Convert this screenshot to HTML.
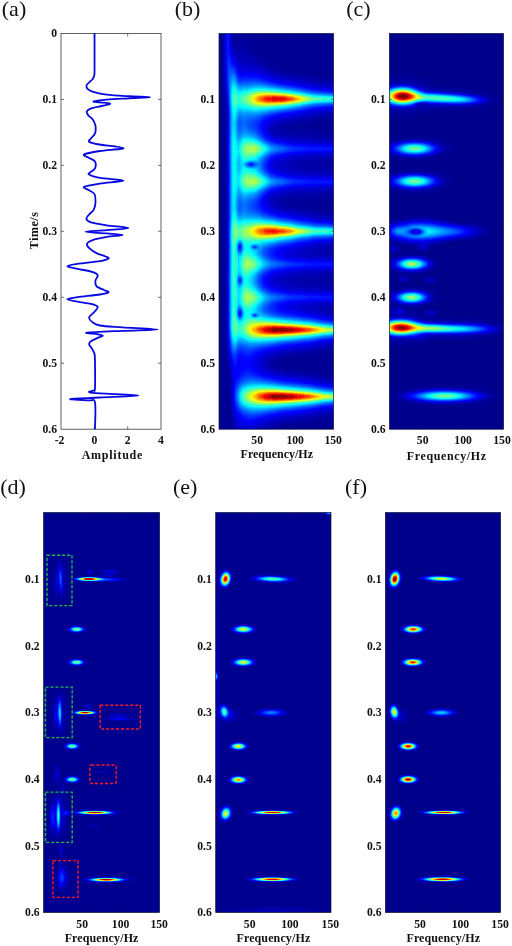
<!DOCTYPE html>
<html><head><meta charset="utf-8"><title>Figure</title>
<style>
html,body{margin:0;padding:0;background:#fff;}
body{width:512px;height:946px;overflow:hidden;}
svg{display:block;}
text{font-family:"Liberation Serif","DejaVu Serif",serif;fill:#111;}
.lab{font-size:22px;}
.tk{font-size:11.7px;font-weight:bold;}
.ax{font-size:12px;font-weight:bold;}
</style></head><body>
<svg width="512" height="946" viewBox="0 0 512 946">
<defs>
<filter id="jet" x="0" y="0" width="100%" height="100%" filterUnits="objectBoundingBox" color-interpolation-filters="sRGB"><feComponentTransfer><feFuncR type="table" tableValues="0.000 0.000 0.000 0.000 0.000 0.000 0.000 0.000 0.000 0.000 0.000 0.000 0.000 0.000 0.000 0.000 0.000 0.000 0.000 0.000 0.000 0.000 0.000 0.000 0.000 0.000 0.000 0.000 0.000 0.000 0.000 0.000 0.000 0.000 0.000 0.000 0.000 0.000 0.000 0.000 0.000 0.000 0.000 0.000 0.000 0.000 0.000 0.000 0.000 0.000 0.000 0.000 0.000 0.000 0.000 0.000 0.000 0.000 0.000 0.000 0.000 0.000 0.000 0.000 0.000 0.000 0.000 0.000 0.000 0.000 0.000 0.000 0.000 0.000 0.000 0.000 0.000 0.000 0.000 0.000 0.000 0.000 0.000 0.000 0.000 0.000 0.000 0.000 0.000 0.000 0.000 0.000 0.000 0.000 0.000 0.000 0.000 0.000 0.000 0.000 0.000 0.000 0.000 0.000 0.017 0.043 0.069 0.097 0.124 0.153 0.182 0.211 0.241 0.272 0.303 0.335 0.368 0.402 0.436 0.471 0.508 0.545 0.583 0.622 0.662 0.704 0.746 0.790 0.836 0.882 0.931 0.981 1.000 1.000 1.000 1.000 1.000 1.000 1.000 1.000 1.000 1.000 1.000 1.000 1.000 1.000 0.923 0.809 0.684 0.548 0.500 0.500 0.500 0.500 0.500 0.500 0.500 0.500 0.500 0.500"/><feFuncG type="table" tableValues="0.000 0.000 0.000 0.000 0.000 0.000 0.000 0.000 0.000 0.000 0.000 0.000 0.000 0.000 0.000 0.000 0.000 0.000 0.000 0.000 0.000 0.000 0.000 0.000 0.000 0.000 0.000 0.000 0.000 0.000 0.000 0.000 0.000 0.000 0.000 0.000 0.000 0.000 0.000 0.000 0.000 0.000 0.000 0.000 0.000 0.000 0.000 0.001 0.013 0.026 0.039 0.053 0.066 0.079 0.093 0.106 0.120 0.134 0.148 0.162 0.177 0.191 0.206 0.221 0.236 0.251 0.266 0.282 0.297 0.313 0.329 0.345 0.361 0.378 0.395 0.412 0.429 0.446 0.464 0.481 0.499 0.517 0.536 0.555 0.573 0.593 0.612 0.632 0.652 0.672 0.693 0.713 0.735 0.756 0.778 0.800 0.823 0.845 0.869 0.892 0.916 0.941 0.966 0.991 1.000 1.000 1.000 1.000 1.000 1.000 1.000 1.000 1.000 1.000 1.000 1.000 1.000 1.000 1.000 1.000 1.000 1.000 1.000 1.000 1.000 1.000 1.000 1.000 1.000 1.000 1.000 1.000 0.967 0.913 0.857 0.799 0.738 0.674 0.608 0.538 0.465 0.388 0.306 0.220 0.127 0.029 0.000 0.000 0.000 0.000 0.000 0.000 0.000 0.000 0.000 0.000 0.000 0.000 0.000 0.000"/><feFuncB type="table" tableValues="0.500 0.509 0.518 0.527 0.536 0.546 0.555 0.564 0.574 0.583 0.593 0.602 0.612 0.622 0.632 0.642 0.652 0.662 0.672 0.682 0.692 0.702 0.713 0.723 0.734 0.744 0.755 0.766 0.777 0.788 0.799 0.810 0.821 0.832 0.844 0.855 0.867 0.878 0.890 0.902 0.914 0.926 0.938 0.950 0.963 0.975 0.988 1.000 1.000 1.000 1.000 1.000 1.000 1.000 1.000 1.000 1.000 1.000 1.000 1.000 1.000 1.000 1.000 1.000 1.000 1.000 1.000 1.000 1.000 1.000 1.000 1.000 1.000 1.000 1.000 1.000 1.000 1.000 1.000 1.000 1.000 1.000 1.000 1.000 1.000 1.000 1.000 1.000 1.000 1.000 1.000 1.000 1.000 1.000 1.000 1.000 1.000 1.000 1.000 1.000 1.000 1.000 1.000 1.000 0.983 0.957 0.931 0.903 0.876 0.847 0.818 0.789 0.759 0.728 0.697 0.665 0.632 0.598 0.564 0.529 0.492 0.455 0.417 0.378 0.338 0.296 0.254 0.210 0.164 0.118 0.069 0.019 0.000 0.000 0.000 0.000 0.000 0.000 0.000 0.000 0.000 0.000 0.000 0.000 0.000 0.000 0.000 0.000 0.000 0.000 0.000 0.000 0.000 0.000 0.000 0.000 0.000 0.000 0.000 0.000"/></feComponentTransfer></filter>
<radialGradient id="g"><stop offset="0.000" stop-color="#fff" stop-opacity="1.000"/><stop offset="0.083" stop-color="#fff" stop-opacity="0.977"/><stop offset="0.167" stop-color="#fff" stop-opacity="0.911"/><stop offset="0.250" stop-color="#fff" stop-opacity="0.811"/><stop offset="0.333" stop-color="#fff" stop-opacity="0.688"/><stop offset="0.417" stop-color="#fff" stop-opacity="0.556"/><stop offset="0.500" stop-color="#fff" stop-opacity="0.426"/><stop offset="0.583" stop-color="#fff" stop-opacity="0.308"/><stop offset="0.667" stop-color="#fff" stop-opacity="0.209"/><stop offset="0.750" stop-color="#fff" stop-opacity="0.130"/><stop offset="0.833" stop-color="#fff" stop-opacity="0.070"/><stop offset="0.917" stop-color="#fff" stop-opacity="0.028"/><stop offset="1.000" stop-color="#fff" stop-opacity="0.000"/></radialGradient>
<radialGradient id="k"><stop offset="0.000" stop-color="#000" stop-opacity="1.000"/><stop offset="0.083" stop-color="#000" stop-opacity="0.977"/><stop offset="0.167" stop-color="#000" stop-opacity="0.911"/><stop offset="0.250" stop-color="#000" stop-opacity="0.811"/><stop offset="0.333" stop-color="#000" stop-opacity="0.688"/><stop offset="0.417" stop-color="#000" stop-opacity="0.556"/><stop offset="0.500" stop-color="#000" stop-opacity="0.426"/><stop offset="0.583" stop-color="#000" stop-opacity="0.308"/><stop offset="0.667" stop-color="#000" stop-opacity="0.209"/><stop offset="0.750" stop-color="#000" stop-opacity="0.130"/><stop offset="0.833" stop-color="#000" stop-opacity="0.070"/><stop offset="0.917" stop-color="#000" stop-opacity="0.028"/><stop offset="1.000" stop-color="#000" stop-opacity="0.000"/></radialGradient>
<clipPath id="cpb"><rect x="219.0" y="33.4" width="114.6" height="395.8"/></clipPath>
<clipPath id="cpc"><rect x="389.4" y="33.4" width="114.2" height="395.8"/></clipPath>
<clipPath id="cpd"><rect x="43.6" y="512.6" width="116.0" height="399.8"/></clipPath>
<clipPath id="cpe"><rect x="215.7" y="512.6" width="115.3" height="399.8"/></clipPath>
<clipPath id="cpf"><rect x="385.4" y="512.6" width="115.2" height="399.8"/></clipPath>
<radialGradient id="g1"><stop offset="0.000" stop-color="#fff" stop-opacity="0.0545"/><stop offset="0.083" stop-color="#fff" stop-opacity="0.0532"/><stop offset="0.167" stop-color="#fff" stop-opacity="0.0498"/><stop offset="0.250" stop-color="#fff" stop-opacity="0.0444"/><stop offset="0.333" stop-color="#fff" stop-opacity="0.0378"/><stop offset="0.417" stop-color="#fff" stop-opacity="0.0306"/><stop offset="0.500" stop-color="#fff" stop-opacity="0.0236"/><stop offset="0.583" stop-color="#fff" stop-opacity="0.0171"/><stop offset="0.667" stop-color="#fff" stop-opacity="0.0116"/><stop offset="0.750" stop-color="#fff" stop-opacity="0.0072"/><stop offset="0.833" stop-color="#fff" stop-opacity="0.0039"/><stop offset="0.917" stop-color="#fff" stop-opacity="0.0016"/><stop offset="1.000" stop-color="#fff" stop-opacity="0.0000"/></radialGradient>
<radialGradient id="g2"><stop offset="0.000" stop-color="#fff" stop-opacity="0.1060"/><stop offset="0.083" stop-color="#fff" stop-opacity="0.1037"/><stop offset="0.167" stop-color="#fff" stop-opacity="0.0970"/><stop offset="0.250" stop-color="#fff" stop-opacity="0.0868"/><stop offset="0.333" stop-color="#fff" stop-opacity="0.0742"/><stop offset="0.417" stop-color="#fff" stop-opacity="0.0603"/><stop offset="0.500" stop-color="#fff" stop-opacity="0.0466"/><stop offset="0.583" stop-color="#fff" stop-opacity="0.0340"/><stop offset="0.667" stop-color="#fff" stop-opacity="0.0231"/><stop offset="0.750" stop-color="#fff" stop-opacity="0.0144"/><stop offset="0.833" stop-color="#fff" stop-opacity="0.0079"/><stop offset="0.917" stop-color="#fff" stop-opacity="0.0032"/><stop offset="1.000" stop-color="#fff" stop-opacity="0.0000"/></radialGradient>
<radialGradient id="g3"><stop offset="0.000" stop-color="#fff" stop-opacity="0.1546"/><stop offset="0.083" stop-color="#fff" stop-opacity="0.1514"/><stop offset="0.167" stop-color="#fff" stop-opacity="0.1420"/><stop offset="0.250" stop-color="#fff" stop-opacity="0.1274"/><stop offset="0.333" stop-color="#fff" stop-opacity="0.1092"/><stop offset="0.417" stop-color="#fff" stop-opacity="0.0891"/><stop offset="0.500" stop-color="#fff" stop-opacity="0.0691"/><stop offset="0.583" stop-color="#fff" stop-opacity="0.0505"/><stop offset="0.667" stop-color="#fff" stop-opacity="0.0345"/><stop offset="0.750" stop-color="#fff" stop-opacity="0.0216"/><stop offset="0.833" stop-color="#fff" stop-opacity="0.0118"/><stop offset="0.917" stop-color="#fff" stop-opacity="0.0048"/><stop offset="1.000" stop-color="#fff" stop-opacity="0.0000"/></radialGradient>
<radialGradient id="g4"><stop offset="0.000" stop-color="#fff" stop-opacity="0.2007"/><stop offset="0.083" stop-color="#fff" stop-opacity="0.1966"/><stop offset="0.167" stop-color="#fff" stop-opacity="0.1847"/><stop offset="0.250" stop-color="#fff" stop-opacity="0.1661"/><stop offset="0.333" stop-color="#fff" stop-opacity="0.1428"/><stop offset="0.417" stop-color="#fff" stop-opacity="0.1170"/><stop offset="0.500" stop-color="#fff" stop-opacity="0.0910"/><stop offset="0.583" stop-color="#fff" stop-opacity="0.0667"/><stop offset="0.667" stop-color="#fff" stop-opacity="0.0457"/><stop offset="0.750" stop-color="#fff" stop-opacity="0.0287"/><stop offset="0.833" stop-color="#fff" stop-opacity="0.0157"/><stop offset="0.917" stop-color="#fff" stop-opacity="0.0063"/><stop offset="1.000" stop-color="#fff" stop-opacity="0.0000"/></radialGradient>
<radialGradient id="g5"><stop offset="0.000" stop-color="#fff" stop-opacity="0.2442"/><stop offset="0.083" stop-color="#fff" stop-opacity="0.2394"/><stop offset="0.167" stop-color="#fff" stop-opacity="0.2252"/><stop offset="0.250" stop-color="#fff" stop-opacity="0.2031"/><stop offset="0.333" stop-color="#fff" stop-opacity="0.1752"/><stop offset="0.417" stop-color="#fff" stop-opacity="0.1441"/><stop offset="0.500" stop-color="#fff" stop-opacity="0.1124"/><stop offset="0.583" stop-color="#fff" stop-opacity="0.0827"/><stop offset="0.667" stop-color="#fff" stop-opacity="0.0568"/><stop offset="0.750" stop-color="#fff" stop-opacity="0.0357"/><stop offset="0.833" stop-color="#fff" stop-opacity="0.0195"/><stop offset="0.917" stop-color="#fff" stop-opacity="0.0079"/><stop offset="1.000" stop-color="#fff" stop-opacity="0.0000"/></radialGradient>
<radialGradient id="g6"><stop offset="0.000" stop-color="#fff" stop-opacity="0.2854"/><stop offset="0.083" stop-color="#fff" stop-opacity="0.2799"/><stop offset="0.167" stop-color="#fff" stop-opacity="0.2638"/><stop offset="0.250" stop-color="#fff" stop-opacity="0.2385"/><stop offset="0.333" stop-color="#fff" stop-opacity="0.2064"/><stop offset="0.417" stop-color="#fff" stop-opacity="0.1703"/><stop offset="0.500" stop-color="#fff" stop-opacity="0.1333"/><stop offset="0.583" stop-color="#fff" stop-opacity="0.0984"/><stop offset="0.667" stop-color="#fff" stop-opacity="0.0678"/><stop offset="0.750" stop-color="#fff" stop-opacity="0.0427"/><stop offset="0.833" stop-color="#fff" stop-opacity="0.0234"/><stop offset="0.917" stop-color="#fff" stop-opacity="0.0095"/><stop offset="1.000" stop-color="#fff" stop-opacity="0.0000"/></radialGradient>
<radialGradient id="g7"><stop offset="0.000" stop-color="#fff" stop-opacity="0.3243"/><stop offset="0.083" stop-color="#fff" stop-opacity="0.3182"/><stop offset="0.167" stop-color="#fff" stop-opacity="0.3004"/><stop offset="0.250" stop-color="#fff" stop-opacity="0.2723"/><stop offset="0.333" stop-color="#fff" stop-opacity="0.2364"/><stop offset="0.417" stop-color="#fff" stop-opacity="0.1957"/><stop offset="0.500" stop-color="#fff" stop-opacity="0.1538"/><stop offset="0.583" stop-color="#fff" stop-opacity="0.1139"/><stop offset="0.667" stop-color="#fff" stop-opacity="0.0786"/><stop offset="0.750" stop-color="#fff" stop-opacity="0.0496"/><stop offset="0.833" stop-color="#fff" stop-opacity="0.0272"/><stop offset="0.917" stop-color="#fff" stop-opacity="0.0111"/><stop offset="1.000" stop-color="#fff" stop-opacity="0.0000"/></radialGradient>
<radialGradient id="g8"><stop offset="0.000" stop-color="#fff" stop-opacity="0.3611"/><stop offset="0.083" stop-color="#fff" stop-opacity="0.3545"/><stop offset="0.167" stop-color="#fff" stop-opacity="0.3352"/><stop offset="0.250" stop-color="#fff" stop-opacity="0.3047"/><stop offset="0.333" stop-color="#fff" stop-opacity="0.2653"/><stop offset="0.417" stop-color="#fff" stop-opacity="0.2204"/><stop offset="0.500" stop-color="#fff" stop-opacity="0.1737"/><stop offset="0.583" stop-color="#fff" stop-opacity="0.1290"/><stop offset="0.667" stop-color="#fff" stop-opacity="0.0894"/><stop offset="0.750" stop-color="#fff" stop-opacity="0.0565"/><stop offset="0.833" stop-color="#fff" stop-opacity="0.0311"/><stop offset="0.917" stop-color="#fff" stop-opacity="0.0126"/><stop offset="1.000" stop-color="#fff" stop-opacity="0.0000"/></radialGradient>
<radialGradient id="g9"><stop offset="0.000" stop-color="#fff" stop-opacity="0.3959"/><stop offset="0.083" stop-color="#fff" stop-opacity="0.3889"/><stop offset="0.167" stop-color="#fff" stop-opacity="0.3683"/><stop offset="0.250" stop-color="#fff" stop-opacity="0.3355"/><stop offset="0.333" stop-color="#fff" stop-opacity="0.2930"/><stop offset="0.417" stop-color="#fff" stop-opacity="0.2442"/><stop offset="0.500" stop-color="#fff" stop-opacity="0.1932"/><stop offset="0.583" stop-color="#fff" stop-opacity="0.1440"/><stop offset="0.667" stop-color="#fff" stop-opacity="0.0999"/><stop offset="0.750" stop-color="#fff" stop-opacity="0.0633"/><stop offset="0.833" stop-color="#fff" stop-opacity="0.0349"/><stop offset="0.917" stop-color="#fff" stop-opacity="0.0142"/><stop offset="1.000" stop-color="#fff" stop-opacity="0.0000"/></radialGradient>
<radialGradient id="g10"><stop offset="0.000" stop-color="#fff" stop-opacity="0.4288"/><stop offset="0.083" stop-color="#fff" stop-opacity="0.4214"/><stop offset="0.167" stop-color="#fff" stop-opacity="0.3997"/><stop offset="0.250" stop-color="#fff" stop-opacity="0.3650"/><stop offset="0.333" stop-color="#fff" stop-opacity="0.3198"/><stop offset="0.417" stop-color="#fff" stop-opacity="0.2674"/><stop offset="0.500" stop-color="#fff" stop-opacity="0.2122"/><stop offset="0.583" stop-color="#fff" stop-opacity="0.1586"/><stop offset="0.667" stop-color="#fff" stop-opacity="0.1104"/><stop offset="0.750" stop-color="#fff" stop-opacity="0.0701"/><stop offset="0.833" stop-color="#fff" stop-opacity="0.0387"/><stop offset="0.917" stop-color="#fff" stop-opacity="0.0158"/><stop offset="1.000" stop-color="#fff" stop-opacity="0.0000"/></radialGradient>
<radialGradient id="g12"><stop offset="0.000" stop-color="#fff" stop-opacity="0.4893"/><stop offset="0.083" stop-color="#fff" stop-opacity="0.4814"/><stop offset="0.167" stop-color="#fff" stop-opacity="0.4580"/><stop offset="0.250" stop-color="#fff" stop-opacity="0.4202"/><stop offset="0.333" stop-color="#fff" stop-opacity="0.3702"/><stop offset="0.417" stop-color="#fff" stop-opacity="0.3116"/><stop offset="0.500" stop-color="#fff" stop-opacity="0.2489"/><stop offset="0.583" stop-color="#fff" stop-opacity="0.1872"/><stop offset="0.667" stop-color="#fff" stop-opacity="0.1310"/><stop offset="0.750" stop-color="#fff" stop-opacity="0.0835"/><stop offset="0.833" stop-color="#fff" stop-opacity="0.0463"/><stop offset="0.917" stop-color="#fff" stop-opacity="0.0189"/><stop offset="1.000" stop-color="#fff" stop-opacity="0.0000"/></radialGradient>
<radialGradient id="g13"><stop offset="0.000" stop-color="#fff" stop-opacity="0.5171"/><stop offset="0.083" stop-color="#fff" stop-opacity="0.5090"/><stop offset="0.167" stop-color="#fff" stop-opacity="0.4849"/><stop offset="0.250" stop-color="#fff" stop-opacity="0.4459"/><stop offset="0.333" stop-color="#fff" stop-opacity="0.3940"/><stop offset="0.417" stop-color="#fff" stop-opacity="0.3327"/><stop offset="0.500" stop-color="#fff" stop-opacity="0.2666"/><stop offset="0.583" stop-color="#fff" stop-opacity="0.2011"/><stop offset="0.667" stop-color="#fff" stop-opacity="0.1411"/><stop offset="0.750" stop-color="#fff" stop-opacity="0.0902"/><stop offset="0.833" stop-color="#fff" stop-opacity="0.0500"/><stop offset="0.917" stop-color="#fff" stop-opacity="0.0204"/><stop offset="1.000" stop-color="#fff" stop-opacity="0.0000"/></radialGradient>
<radialGradient id="g14"><stop offset="0.000" stop-color="#fff" stop-opacity="0.5434"/><stop offset="0.083" stop-color="#fff" stop-opacity="0.5351"/><stop offset="0.167" stop-color="#fff" stop-opacity="0.5106"/><stop offset="0.250" stop-color="#fff" stop-opacity="0.4705"/><stop offset="0.333" stop-color="#fff" stop-opacity="0.4169"/><stop offset="0.417" stop-color="#fff" stop-opacity="0.3531"/><stop offset="0.500" stop-color="#fff" stop-opacity="0.2839"/><stop offset="0.583" stop-color="#fff" stop-opacity="0.2148"/><stop offset="0.667" stop-color="#fff" stop-opacity="0.1511"/><stop offset="0.750" stop-color="#fff" stop-opacity="0.0968"/><stop offset="0.833" stop-color="#fff" stop-opacity="0.0538"/><stop offset="0.917" stop-color="#fff" stop-opacity="0.0220"/><stop offset="1.000" stop-color="#fff" stop-opacity="0.0000"/></radialGradient>
<radialGradient id="g15"><stop offset="0.000" stop-color="#fff" stop-opacity="0.5683"/><stop offset="0.083" stop-color="#fff" stop-opacity="0.5599"/><stop offset="0.167" stop-color="#fff" stop-opacity="0.5349"/><stop offset="0.250" stop-color="#fff" stop-opacity="0.4940"/><stop offset="0.333" stop-color="#fff" stop-opacity="0.4390"/><stop offset="0.417" stop-color="#fff" stop-opacity="0.3730"/><stop offset="0.500" stop-color="#fff" stop-opacity="0.3008"/><stop offset="0.583" stop-color="#fff" stop-opacity="0.2282"/><stop offset="0.667" stop-color="#fff" stop-opacity="0.1610"/><stop offset="0.750" stop-color="#fff" stop-opacity="0.1033"/><stop offset="0.833" stop-color="#fff" stop-opacity="0.0575"/><stop offset="0.917" stop-color="#fff" stop-opacity="0.0235"/><stop offset="1.000" stop-color="#fff" stop-opacity="0.0000"/></radialGradient>
<radialGradient id="g16"><stop offset="0.000" stop-color="#fff" stop-opacity="0.5918"/><stop offset="0.083" stop-color="#fff" stop-opacity="0.5833"/><stop offset="0.167" stop-color="#fff" stop-opacity="0.5580"/><stop offset="0.250" stop-color="#fff" stop-opacity="0.5165"/><stop offset="0.333" stop-color="#fff" stop-opacity="0.4602"/><stop offset="0.417" stop-color="#fff" stop-opacity="0.3922"/><stop offset="0.500" stop-color="#fff" stop-opacity="0.3173"/><stop offset="0.583" stop-color="#fff" stop-opacity="0.2414"/><stop offset="0.667" stop-color="#fff" stop-opacity="0.1707"/><stop offset="0.750" stop-color="#fff" stop-opacity="0.1098"/><stop offset="0.833" stop-color="#fff" stop-opacity="0.0612"/><stop offset="0.917" stop-color="#fff" stop-opacity="0.0251"/><stop offset="1.000" stop-color="#fff" stop-opacity="0.0000"/></radialGradient>
<radialGradient id="g17"><stop offset="0.000" stop-color="#fff" stop-opacity="0.6140"/><stop offset="0.083" stop-color="#fff" stop-opacity="0.6055"/><stop offset="0.167" stop-color="#fff" stop-opacity="0.5800"/><stop offset="0.250" stop-color="#fff" stop-opacity="0.5380"/><stop offset="0.333" stop-color="#fff" stop-opacity="0.4806"/><stop offset="0.417" stop-color="#fff" stop-opacity="0.4108"/><stop offset="0.500" stop-color="#fff" stop-opacity="0.3333"/><stop offset="0.583" stop-color="#fff" stop-opacity="0.2544"/><stop offset="0.667" stop-color="#fff" stop-opacity="0.1804"/><stop offset="0.750" stop-color="#fff" stop-opacity="0.1163"/><stop offset="0.833" stop-color="#fff" stop-opacity="0.0649"/><stop offset="0.917" stop-color="#fff" stop-opacity="0.0266"/><stop offset="1.000" stop-color="#fff" stop-opacity="0.0000"/></radialGradient>
<radialGradient id="g18"><stop offset="0.000" stop-color="#fff" stop-opacity="0.6351"/><stop offset="0.083" stop-color="#fff" stop-opacity="0.6265"/><stop offset="0.167" stop-color="#fff" stop-opacity="0.6009"/><stop offset="0.250" stop-color="#fff" stop-opacity="0.5585"/><stop offset="0.333" stop-color="#fff" stop-opacity="0.5002"/><stop offset="0.417" stop-color="#fff" stop-opacity="0.4288"/><stop offset="0.500" stop-color="#fff" stop-opacity="0.3491"/><stop offset="0.583" stop-color="#fff" stop-opacity="0.2672"/><stop offset="0.667" stop-color="#fff" stop-opacity="0.1899"/><stop offset="0.750" stop-color="#fff" stop-opacity="0.1227"/><stop offset="0.833" stop-color="#fff" stop-opacity="0.0686"/><stop offset="0.917" stop-color="#fff" stop-opacity="0.0282"/><stop offset="1.000" stop-color="#fff" stop-opacity="0.0000"/></radialGradient>
<radialGradient id="g19"><stop offset="0.000" stop-color="#fff" stop-opacity="0.6549"/><stop offset="0.083" stop-color="#fff" stop-opacity="0.6464"/><stop offset="0.167" stop-color="#fff" stop-opacity="0.6208"/><stop offset="0.250" stop-color="#fff" stop-opacity="0.5781"/><stop offset="0.333" stop-color="#fff" stop-opacity="0.5191"/><stop offset="0.417" stop-color="#fff" stop-opacity="0.4463"/><stop offset="0.500" stop-color="#fff" stop-opacity="0.3644"/><stop offset="0.583" stop-color="#fff" stop-opacity="0.2797"/><stop offset="0.667" stop-color="#fff" stop-opacity="0.1993"/><stop offset="0.750" stop-color="#fff" stop-opacity="0.1290"/><stop offset="0.833" stop-color="#fff" stop-opacity="0.0722"/><stop offset="0.917" stop-color="#fff" stop-opacity="0.0297"/><stop offset="1.000" stop-color="#fff" stop-opacity="0.0000"/></radialGradient>
<radialGradient id="g20"><stop offset="0.000" stop-color="#fff" stop-opacity="0.6737"/><stop offset="0.083" stop-color="#fff" stop-opacity="0.6652"/><stop offset="0.167" stop-color="#fff" stop-opacity="0.6397"/><stop offset="0.250" stop-color="#fff" stop-opacity="0.5968"/><stop offset="0.333" stop-color="#fff" stop-opacity="0.5373"/><stop offset="0.417" stop-color="#fff" stop-opacity="0.4633"/><stop offset="0.500" stop-color="#fff" stop-opacity="0.3794"/><stop offset="0.583" stop-color="#fff" stop-opacity="0.2921"/><stop offset="0.667" stop-color="#fff" stop-opacity="0.2086"/><stop offset="0.750" stop-color="#fff" stop-opacity="0.1353"/><stop offset="0.833" stop-color="#fff" stop-opacity="0.0759"/><stop offset="0.917" stop-color="#fff" stop-opacity="0.0313"/><stop offset="1.000" stop-color="#fff" stop-opacity="0.0000"/></radialGradient>
<radialGradient id="g21"><stop offset="0.000" stop-color="#fff" stop-opacity="0.6915"/><stop offset="0.083" stop-color="#fff" stop-opacity="0.6831"/><stop offset="0.167" stop-color="#fff" stop-opacity="0.6576"/><stop offset="0.250" stop-color="#fff" stop-opacity="0.6147"/><stop offset="0.333" stop-color="#fff" stop-opacity="0.5548"/><stop offset="0.417" stop-color="#fff" stop-opacity="0.4797"/><stop offset="0.500" stop-color="#fff" stop-opacity="0.3940"/><stop offset="0.583" stop-color="#fff" stop-opacity="0.3042"/><stop offset="0.667" stop-color="#fff" stop-opacity="0.2178"/><stop offset="0.750" stop-color="#fff" stop-opacity="0.1416"/><stop offset="0.833" stop-color="#fff" stop-opacity="0.0795"/><stop offset="0.917" stop-color="#fff" stop-opacity="0.0328"/><stop offset="1.000" stop-color="#fff" stop-opacity="0.0000"/></radialGradient>
<radialGradient id="g22"><stop offset="0.000" stop-color="#fff" stop-opacity="0.7083"/><stop offset="0.083" stop-color="#fff" stop-opacity="0.6999"/><stop offset="0.167" stop-color="#fff" stop-opacity="0.6746"/><stop offset="0.250" stop-color="#fff" stop-opacity="0.6318"/><stop offset="0.333" stop-color="#fff" stop-opacity="0.5716"/><stop offset="0.417" stop-color="#fff" stop-opacity="0.4957"/><stop offset="0.500" stop-color="#fff" stop-opacity="0.4083"/><stop offset="0.583" stop-color="#fff" stop-opacity="0.3161"/><stop offset="0.667" stop-color="#fff" stop-opacity="0.2269"/><stop offset="0.750" stop-color="#fff" stop-opacity="0.1478"/><stop offset="0.833" stop-color="#fff" stop-opacity="0.0832"/><stop offset="0.917" stop-color="#fff" stop-opacity="0.0343"/><stop offset="1.000" stop-color="#fff" stop-opacity="0.0000"/></radialGradient>
<radialGradient id="g23"><stop offset="0.000" stop-color="#fff" stop-opacity="0.7242"/><stop offset="0.083" stop-color="#fff" stop-opacity="0.7159"/><stop offset="0.167" stop-color="#fff" stop-opacity="0.6908"/><stop offset="0.250" stop-color="#fff" stop-opacity="0.6482"/><stop offset="0.333" stop-color="#fff" stop-opacity="0.5878"/><stop offset="0.417" stop-color="#fff" stop-opacity="0.5111"/><stop offset="0.500" stop-color="#fff" stop-opacity="0.4222"/><stop offset="0.583" stop-color="#fff" stop-opacity="0.3278"/><stop offset="0.667" stop-color="#fff" stop-opacity="0.2359"/><stop offset="0.750" stop-color="#fff" stop-opacity="0.1540"/><stop offset="0.833" stop-color="#fff" stop-opacity="0.0868"/><stop offset="0.917" stop-color="#fff" stop-opacity="0.0359"/><stop offset="1.000" stop-color="#fff" stop-opacity="0.0000"/></radialGradient>
<radialGradient id="g28"><stop offset="0.000" stop-color="#fff" stop-opacity="0.7915"/><stop offset="0.083" stop-color="#fff" stop-opacity="0.7839"/><stop offset="0.167" stop-color="#fff" stop-opacity="0.7604"/><stop offset="0.250" stop-color="#fff" stop-opacity="0.7196"/><stop offset="0.333" stop-color="#fff" stop-opacity="0.6600"/><stop offset="0.417" stop-color="#fff" stop-opacity="0.5816"/><stop offset="0.500" stop-color="#fff" stop-opacity="0.4872"/><stop offset="0.583" stop-color="#fff" stop-opacity="0.3834"/><stop offset="0.667" stop-color="#fff" stop-opacity="0.2794"/><stop offset="0.750" stop-color="#fff" stop-opacity="0.1842"/><stop offset="0.833" stop-color="#fff" stop-opacity="0.1046"/><stop offset="0.917" stop-color="#fff" stop-opacity="0.0435"/><stop offset="1.000" stop-color="#fff" stop-opacity="0.0000"/></radialGradient>
<radialGradient id="g30"><stop offset="0.000" stop-color="#fff" stop-opacity="0.8136"/><stop offset="0.083" stop-color="#fff" stop-opacity="0.8063"/><stop offset="0.167" stop-color="#fff" stop-opacity="0.7837"/><stop offset="0.250" stop-color="#fff" stop-opacity="0.7440"/><stop offset="0.333" stop-color="#fff" stop-opacity="0.6852"/><stop offset="0.417" stop-color="#fff" stop-opacity="0.6068"/><stop offset="0.500" stop-color="#fff" stop-opacity="0.5111"/><stop offset="0.583" stop-color="#fff" stop-opacity="0.4044"/><stop offset="0.667" stop-color="#fff" stop-opacity="0.2960"/><stop offset="0.750" stop-color="#fff" stop-opacity="0.1960"/><stop offset="0.833" stop-color="#fff" stop-opacity="0.1117"/><stop offset="0.917" stop-color="#fff" stop-opacity="0.0465"/><stop offset="1.000" stop-color="#fff" stop-opacity="0.0000"/></radialGradient>
<radialGradient id="g35"><stop offset="0.000" stop-color="#fff" stop-opacity="0.8591"/><stop offset="0.083" stop-color="#fff" stop-opacity="0.8527"/><stop offset="0.167" stop-color="#fff" stop-opacity="0.8324"/><stop offset="0.250" stop-color="#fff" stop-opacity="0.7960"/><stop offset="0.333" stop-color="#fff" stop-opacity="0.7404"/><stop offset="0.417" stop-color="#fff" stop-opacity="0.6635"/><stop offset="0.500" stop-color="#fff" stop-opacity="0.5660"/><stop offset="0.583" stop-color="#fff" stop-opacity="0.4536"/><stop offset="0.667" stop-color="#fff" stop-opacity="0.3360"/><stop offset="0.750" stop-color="#fff" stop-opacity="0.2247"/><stop offset="0.833" stop-color="#fff" stop-opacity="0.1290"/><stop offset="0.917" stop-color="#fff" stop-opacity="0.0541"/><stop offset="1.000" stop-color="#fff" stop-opacity="0.0000"/></radialGradient>
<radialGradient id="g36"><stop offset="0.000" stop-color="#fff" stop-opacity="0.8668"/><stop offset="0.083" stop-color="#fff" stop-opacity="0.8605"/><stop offset="0.167" stop-color="#fff" stop-opacity="0.8407"/><stop offset="0.250" stop-color="#fff" stop-opacity="0.8051"/><stop offset="0.333" stop-color="#fff" stop-opacity="0.7502"/><stop offset="0.417" stop-color="#fff" stop-opacity="0.6738"/><stop offset="0.500" stop-color="#fff" stop-opacity="0.5763"/><stop offset="0.583" stop-color="#fff" stop-opacity="0.4630"/><stop offset="0.667" stop-color="#fff" stop-opacity="0.3437"/><stop offset="0.750" stop-color="#fff" stop-opacity="0.2303"/><stop offset="0.833" stop-color="#fff" stop-opacity="0.1325"/><stop offset="0.917" stop-color="#fff" stop-opacity="0.0556"/><stop offset="1.000" stop-color="#fff" stop-opacity="0.0000"/></radialGradient>
<radialGradient id="g41"><stop offset="0.000" stop-color="#fff" stop-opacity="0.8993"/><stop offset="0.083" stop-color="#fff" stop-opacity="0.8939"/><stop offset="0.167" stop-color="#fff" stop-opacity="0.8766"/><stop offset="0.250" stop-color="#fff" stop-opacity="0.8447"/><stop offset="0.333" stop-color="#fff" stop-opacity="0.7940"/><stop offset="0.417" stop-color="#fff" stop-opacity="0.7208"/><stop offset="0.500" stop-color="#fff" stop-opacity="0.6239"/><stop offset="0.583" stop-color="#fff" stop-opacity="0.5074"/><stop offset="0.667" stop-color="#fff" stop-opacity="0.3810"/><stop offset="0.750" stop-color="#fff" stop-opacity="0.2578"/><stop offset="0.833" stop-color="#fff" stop-opacity="0.1494"/><stop offset="0.917" stop-color="#fff" stop-opacity="0.0630"/><stop offset="1.000" stop-color="#fff" stop-opacity="0.0000"/></radialGradient>
<radialGradient id="g43"><stop offset="0.000" stop-color="#fff" stop-opacity="0.9100"/><stop offset="0.083" stop-color="#fff" stop-opacity="0.9049"/><stop offset="0.167" stop-color="#fff" stop-opacity="0.8886"/><stop offset="0.250" stop-color="#fff" stop-opacity="0.8581"/><stop offset="0.333" stop-color="#fff" stop-opacity="0.8093"/><stop offset="0.417" stop-color="#fff" stop-opacity="0.7376"/><stop offset="0.500" stop-color="#fff" stop-opacity="0.6414"/><stop offset="0.583" stop-color="#fff" stop-opacity="0.5241"/><stop offset="0.667" stop-color="#fff" stop-opacity="0.3954"/><stop offset="0.750" stop-color="#fff" stop-opacity="0.2685"/><stop offset="0.833" stop-color="#fff" stop-opacity="0.1561"/><stop offset="0.917" stop-color="#fff" stop-opacity="0.0660"/><stop offset="1.000" stop-color="#fff" stop-opacity="0.0000"/></radialGradient>
<radialGradient id="g44"><stop offset="0.000" stop-color="#fff" stop-opacity="0.9149"/><stop offset="0.083" stop-color="#fff" stop-opacity="0.9100"/><stop offset="0.167" stop-color="#fff" stop-opacity="0.8941"/><stop offset="0.250" stop-color="#fff" stop-opacity="0.8644"/><stop offset="0.333" stop-color="#fff" stop-opacity="0.8165"/><stop offset="0.417" stop-color="#fff" stop-opacity="0.7457"/><stop offset="0.500" stop-color="#fff" stop-opacity="0.6499"/><stop offset="0.583" stop-color="#fff" stop-opacity="0.5323"/><stop offset="0.667" stop-color="#fff" stop-opacity="0.4024"/><stop offset="0.750" stop-color="#fff" stop-opacity="0.2738"/><stop offset="0.833" stop-color="#fff" stop-opacity="0.1594"/><stop offset="0.917" stop-color="#fff" stop-opacity="0.0675"/><stop offset="1.000" stop-color="#fff" stop-opacity="0.0000"/></radialGradient>
<radialGradient id="g45"><stop offset="0.000" stop-color="#fff" stop-opacity="0.9195"/><stop offset="0.083" stop-color="#fff" stop-opacity="0.9148"/><stop offset="0.167" stop-color="#fff" stop-opacity="0.8994"/><stop offset="0.250" stop-color="#fff" stop-opacity="0.8705"/><stop offset="0.333" stop-color="#fff" stop-opacity="0.8234"/><stop offset="0.417" stop-color="#fff" stop-opacity="0.7535"/><stop offset="0.500" stop-color="#fff" stop-opacity="0.6581"/><stop offset="0.583" stop-color="#fff" stop-opacity="0.5403"/><stop offset="0.667" stop-color="#fff" stop-opacity="0.4093"/><stop offset="0.750" stop-color="#fff" stop-opacity="0.2790"/><stop offset="0.833" stop-color="#fff" stop-opacity="0.1627"/><stop offset="0.917" stop-color="#fff" stop-opacity="0.0689"/><stop offset="1.000" stop-color="#fff" stop-opacity="0.0000"/></radialGradient>
<radialGradient id="g46"><stop offset="0.000" stop-color="#fff" stop-opacity="0.9239"/><stop offset="0.083" stop-color="#fff" stop-opacity="0.9193"/><stop offset="0.167" stop-color="#fff" stop-opacity="0.9044"/><stop offset="0.250" stop-color="#fff" stop-opacity="0.8762"/><stop offset="0.333" stop-color="#fff" stop-opacity="0.8301"/><stop offset="0.417" stop-color="#fff" stop-opacity="0.7610"/><stop offset="0.500" stop-color="#fff" stop-opacity="0.6662"/><stop offset="0.583" stop-color="#fff" stop-opacity="0.5482"/><stop offset="0.667" stop-color="#fff" stop-opacity="0.4162"/><stop offset="0.750" stop-color="#fff" stop-opacity="0.2843"/><stop offset="0.833" stop-color="#fff" stop-opacity="0.1660"/><stop offset="0.917" stop-color="#fff" stop-opacity="0.0704"/><stop offset="1.000" stop-color="#fff" stop-opacity="0.0000"/></radialGradient>
<radialGradient id="g50"><stop offset="0.000" stop-color="#fff" stop-opacity="0.9392"/><stop offset="0.083" stop-color="#fff" stop-opacity="0.9352"/><stop offset="0.167" stop-color="#fff" stop-opacity="0.9221"/><stop offset="0.250" stop-color="#fff" stop-opacity="0.8968"/><stop offset="0.333" stop-color="#fff" stop-opacity="0.8544"/><stop offset="0.417" stop-color="#fff" stop-opacity="0.7890"/><stop offset="0.500" stop-color="#fff" stop-opacity="0.6966"/><stop offset="0.583" stop-color="#fff" stop-opacity="0.5783"/><stop offset="0.667" stop-color="#fff" stop-opacity="0.4429"/><stop offset="0.750" stop-color="#fff" stop-opacity="0.3048"/><stop offset="0.833" stop-color="#fff" stop-opacity="0.1791"/><stop offset="0.917" stop-color="#fff" stop-opacity="0.0763"/><stop offset="1.000" stop-color="#fff" stop-opacity="0.0000"/></radialGradient>
</defs>
<rect width="512" height="946" fill="#fff"/>
<g clip-path="url(#cpb)"><g filter="url(#jet)">
<rect x="217.0" y="31.4" width="118.6" height="399.8" fill="#000"/>
<rect x="217.0" y="31.4" width="118.6" height="399.8" fill="#fff" opacity="0.054"/>
<ellipse cx="232.6" cy="90.0" rx="8.0" ry="50.6" fill="url(#g12)"/>
<ellipse cx="232.6" cy="112.0" rx="8.0" ry="50.6" fill="url(#g2)"/>
<ellipse cx="232.6" cy="134.0" rx="8.0" ry="50.6" fill="url(#g9)"/>
<ellipse cx="232.6" cy="156.0" rx="8.0" ry="50.6" fill="url(#g5)"/>
<ellipse cx="232.6" cy="178.0" rx="8.0" ry="50.6" fill="url(#g7)"/>
<ellipse cx="232.6" cy="200.0" rx="8.0" ry="50.6" fill="url(#g6)"/>
<ellipse cx="232.6" cy="222.0" rx="8.0" ry="50.6" fill="url(#g6)"/>
<ellipse cx="232.6" cy="244.0" rx="8.0" ry="50.6" fill="url(#g8)"/>
<ellipse cx="232.6" cy="266.0" rx="8.0" ry="50.6" fill="url(#g6)"/>
<ellipse cx="232.6" cy="288.0" rx="8.0" ry="50.6" fill="url(#g9)"/>
<ellipse cx="232.6" cy="310.0" rx="8.0" ry="50.6" fill="url(#g5)"/>
<ellipse cx="232.6" cy="332.0" rx="8.0" ry="50.6" fill="url(#g10)"/>
<ellipse cx="232.6" cy="376.0" rx="8.0" ry="50.6" fill="url(#g1)"/>
<ellipse cx="228.0" cy="-20.0" rx="6.0" ry="50.6" fill="url(#g6)"/>
<ellipse cx="228.0" cy="2.0" rx="6.0" ry="50.6" fill="url(#g1)"/>
<ellipse cx="228.0" cy="24.0" rx="6.0" ry="50.6" fill="url(#g5)"/>
<ellipse cx="228.0" cy="46.0" rx="6.0" ry="50.6" fill="url(#g1)"/>
<ellipse cx="228.0" cy="68.0" rx="6.0" ry="50.6" fill="url(#g5)"/>
<ellipse cx="235.0" cy="99.0" rx="6.2" ry="29.2" fill="url(#g1)"/>
<ellipse cx="235.0" cy="99.0" rx="6.2" ry="58.4" fill="url(#g1)"/>
<ellipse cx="235.0" cy="99.0" rx="6.2" ry="116.9" fill="url(#g1)"/>
<ellipse cx="237.7" cy="99.0" rx="6.6" ry="25.2" fill="url(#g1)"/>
<ellipse cx="237.7" cy="99.0" rx="6.6" ry="50.5" fill="url(#g2)"/>
<ellipse cx="237.7" cy="99.0" rx="6.6" ry="100.9" fill="url(#g1)"/>
<ellipse cx="240.8" cy="99.0" rx="7.5" ry="20.7" fill="url(#g2)"/>
<ellipse cx="240.8" cy="99.0" rx="7.5" ry="41.4" fill="url(#g2)"/>
<ellipse cx="240.8" cy="99.0" rx="7.5" ry="82.7" fill="url(#g2)"/>
<ellipse cx="244.2" cy="99.0" rx="8.8" ry="18.0" fill="url(#g3)"/>
<ellipse cx="244.2" cy="99.0" rx="8.8" ry="36.0" fill="url(#g4)"/>
<ellipse cx="244.2" cy="99.0" rx="8.8" ry="71.9" fill="url(#g3)"/>
<ellipse cx="248.4" cy="99.0" rx="10.5" ry="16.2" fill="url(#g3)"/>
<ellipse cx="248.4" cy="99.0" rx="10.5" ry="32.3" fill="url(#g5)"/>
<ellipse cx="248.4" cy="99.0" rx="10.5" ry="64.7" fill="url(#g3)"/>
<ellipse cx="253.4" cy="99.0" rx="11.9" ry="14.2" fill="url(#g4)"/>
<ellipse cx="253.4" cy="99.0" rx="11.9" ry="28.3" fill="url(#g6)"/>
<ellipse cx="253.4" cy="99.0" rx="11.9" ry="56.7" fill="url(#g4)"/>
<ellipse cx="258.7" cy="99.0" rx="13.2" ry="12.4" fill="url(#g5)"/>
<ellipse cx="258.7" cy="99.0" rx="13.2" ry="24.8" fill="url(#g6)"/>
<ellipse cx="258.7" cy="99.0" rx="13.2" ry="49.6" fill="url(#g5)"/>
<ellipse cx="264.8" cy="99.0" rx="14.9" ry="10.4" fill="url(#g6)"/>
<ellipse cx="264.8" cy="99.0" rx="14.9" ry="20.7" fill="url(#g8)"/>
<ellipse cx="264.8" cy="99.0" rx="14.9" ry="41.5" fill="url(#g6)"/>
<ellipse cx="271.7" cy="99.0" rx="16.7" ry="9.2" fill="url(#g6)"/>
<ellipse cx="271.7" cy="99.0" rx="16.7" ry="18.4" fill="url(#g8)"/>
<ellipse cx="271.7" cy="99.0" rx="16.7" ry="36.7" fill="url(#g6)"/>
<ellipse cx="279.4" cy="99.0" rx="18.5" ry="7.8" fill="url(#g7)"/>
<ellipse cx="279.4" cy="99.0" rx="18.5" ry="15.7" fill="url(#g10)"/>
<ellipse cx="279.4" cy="99.0" rx="18.5" ry="31.4" fill="url(#g7)"/>
<ellipse cx="287.8" cy="99.0" rx="19.3" ry="7.6" fill="url(#g6)"/>
<ellipse cx="287.8" cy="99.0" rx="19.3" ry="15.1" fill="url(#g8)"/>
<ellipse cx="287.8" cy="99.0" rx="19.3" ry="30.3" fill="url(#g6)"/>
<ellipse cx="296.2" cy="99.0" rx="19.3" ry="7.4" fill="url(#g5)"/>
<ellipse cx="296.2" cy="99.0" rx="19.3" ry="14.8" fill="url(#g7)"/>
<ellipse cx="296.2" cy="99.0" rx="19.3" ry="29.6" fill="url(#g5)"/>
<ellipse cx="304.6" cy="99.0" rx="19.3" ry="7.2" fill="url(#g4)"/>
<ellipse cx="304.6" cy="99.0" rx="19.3" ry="14.3" fill="url(#g5)"/>
<ellipse cx="304.6" cy="99.0" rx="19.3" ry="28.7" fill="url(#g4)"/>
<ellipse cx="313.0" cy="99.0" rx="19.3" ry="6.9" fill="url(#g3)"/>
<ellipse cx="313.0" cy="99.0" rx="19.3" ry="13.8" fill="url(#g4)"/>
<ellipse cx="313.0" cy="99.0" rx="19.3" ry="27.6" fill="url(#g3)"/>
<ellipse cx="321.4" cy="99.0" rx="19.3" ry="6.5" fill="url(#g3)"/>
<ellipse cx="321.4" cy="99.0" rx="19.3" ry="13.1" fill="url(#g4)"/>
<ellipse cx="321.4" cy="99.0" rx="19.3" ry="26.2" fill="url(#g3)"/>
<ellipse cx="329.8" cy="99.0" rx="19.3" ry="6.1" fill="url(#g3)"/>
<ellipse cx="329.8" cy="99.0" rx="19.3" ry="12.3" fill="url(#g4)"/>
<ellipse cx="329.8" cy="99.0" rx="19.3" ry="24.6" fill="url(#g3)"/>
<ellipse cx="338.2" cy="99.0" rx="19.3" ry="5.9" fill="url(#g2)"/>
<ellipse cx="338.2" cy="99.0" rx="19.3" ry="11.8" fill="url(#g3)"/>
<ellipse cx="338.2" cy="99.0" rx="19.3" ry="23.6" fill="url(#g2)"/>
<ellipse cx="346.6" cy="99.0" rx="19.3" ry="5.7" fill="url(#g4)"/>
<ellipse cx="346.6" cy="99.0" rx="19.3" ry="11.4" fill="url(#g5)"/>
<ellipse cx="346.6" cy="99.0" rx="19.3" ry="22.8" fill="url(#g4)"/>
<ellipse cx="355.0" cy="99.0" rx="19.3" ry="5.5" fill="url(#g1)"/>
<ellipse cx="355.0" cy="99.0" rx="19.3" ry="11.0" fill="url(#g1)"/>
<ellipse cx="355.0" cy="99.0" rx="19.3" ry="21.9" fill="url(#g1)"/>
<ellipse cx="363.4" cy="99.0" rx="19.3" ry="5.3" fill="url(#g4)"/>
<ellipse cx="363.4" cy="99.0" rx="19.3" ry="10.7" fill="url(#g6)"/>
<ellipse cx="363.4" cy="99.0" rx="19.3" ry="21.4" fill="url(#g4)"/>
<ellipse cx="235.0" cy="148.8" rx="6.2" ry="29.2" fill="url(#g1)"/>
<ellipse cx="235.0" cy="148.8" rx="6.2" ry="58.4" fill="url(#g1)"/>
<ellipse cx="235.0" cy="148.8" rx="6.2" ry="116.9" fill="url(#g1)"/>
<ellipse cx="237.7" cy="148.8" rx="6.6" ry="25.2" fill="url(#g1)"/>
<ellipse cx="237.7" cy="148.8" rx="6.6" ry="50.5" fill="url(#g2)"/>
<ellipse cx="237.7" cy="148.8" rx="6.6" ry="100.9" fill="url(#g1)"/>
<ellipse cx="240.8" cy="148.8" rx="7.5" ry="20.7" fill="url(#g2)"/>
<ellipse cx="240.8" cy="148.8" rx="7.5" ry="41.4" fill="url(#g2)"/>
<ellipse cx="240.8" cy="148.8" rx="7.5" ry="82.7" fill="url(#g2)"/>
<ellipse cx="244.2" cy="148.8" rx="8.8" ry="18.0" fill="url(#g3)"/>
<ellipse cx="244.2" cy="148.8" rx="8.8" ry="36.0" fill="url(#g4)"/>
<ellipse cx="244.2" cy="148.8" rx="8.8" ry="71.9" fill="url(#g3)"/>
<ellipse cx="248.4" cy="148.8" rx="10.5" ry="16.2" fill="url(#g3)"/>
<ellipse cx="248.4" cy="148.8" rx="10.5" ry="32.3" fill="url(#g4)"/>
<ellipse cx="248.4" cy="148.8" rx="10.5" ry="64.7" fill="url(#g3)"/>
<ellipse cx="253.4" cy="148.8" rx="11.9" ry="14.2" fill="url(#g4)"/>
<ellipse cx="253.4" cy="148.8" rx="11.9" ry="28.3" fill="url(#g5)"/>
<ellipse cx="253.4" cy="148.8" rx="11.9" ry="56.7" fill="url(#g4)"/>
<ellipse cx="258.7" cy="148.8" rx="13.2" ry="12.4" fill="url(#g3)"/>
<ellipse cx="258.7" cy="148.8" rx="13.2" ry="24.8" fill="url(#g4)"/>
<ellipse cx="258.7" cy="148.8" rx="13.2" ry="49.6" fill="url(#g3)"/>
<ellipse cx="264.8" cy="148.8" rx="14.9" ry="10.4" fill="url(#g3)"/>
<ellipse cx="264.8" cy="148.8" rx="14.9" ry="20.7" fill="url(#g4)"/>
<ellipse cx="264.8" cy="148.8" rx="14.9" ry="41.5" fill="url(#g3)"/>
<ellipse cx="271.7" cy="148.8" rx="16.7" ry="9.2" fill="url(#g1)"/>
<ellipse cx="271.7" cy="148.8" rx="16.7" ry="18.4" fill="url(#g2)"/>
<ellipse cx="271.7" cy="148.8" rx="16.7" ry="36.7" fill="url(#g1)"/>
<ellipse cx="279.4" cy="148.8" rx="18.5" ry="7.8" fill="url(#g2)"/>
<ellipse cx="279.4" cy="148.8" rx="18.5" ry="15.7" fill="url(#g3)"/>
<ellipse cx="279.4" cy="148.8" rx="18.5" ry="31.4" fill="url(#g2)"/>
<ellipse cx="287.8" cy="148.8" rx="19.3" ry="7.6" fill="url(#g1)"/>
<ellipse cx="287.8" cy="148.8" rx="19.3" ry="15.1" fill="url(#g1)"/>
<ellipse cx="287.8" cy="148.8" rx="19.3" ry="30.3" fill="url(#g1)"/>
<ellipse cx="296.2" cy="148.8" rx="19.3" ry="7.4" fill="url(#g1)"/>
<ellipse cx="296.2" cy="148.8" rx="19.3" ry="14.8" fill="url(#g2)"/>
<ellipse cx="296.2" cy="148.8" rx="19.3" ry="29.6" fill="url(#g1)"/>
<ellipse cx="304.6" cy="148.8" rx="19.3" ry="7.2" fill="url(#g1)"/>
<ellipse cx="304.6" cy="148.8" rx="19.3" ry="14.3" fill="url(#g1)"/>
<ellipse cx="304.6" cy="148.8" rx="19.3" ry="28.7" fill="url(#g1)"/>
<ellipse cx="313.0" cy="148.8" rx="19.3" ry="6.9" fill="url(#g1)"/>
<ellipse cx="313.0" cy="148.8" rx="19.3" ry="13.8" fill="url(#g1)"/>
<ellipse cx="313.0" cy="148.8" rx="19.3" ry="27.6" fill="url(#g1)"/>
<ellipse cx="321.4" cy="148.8" rx="19.3" ry="6.5" fill="url(#g1)"/>
<ellipse cx="321.4" cy="148.8" rx="19.3" ry="13.1" fill="url(#g1)"/>
<ellipse cx="321.4" cy="148.8" rx="19.3" ry="26.2" fill="url(#g1)"/>
<ellipse cx="329.8" cy="148.8" rx="19.3" ry="6.1" fill="url(#g1)"/>
<ellipse cx="329.8" cy="148.8" rx="19.3" ry="12.3" fill="url(#g1)"/>
<ellipse cx="329.8" cy="148.8" rx="19.3" ry="24.6" fill="url(#g1)"/>
<ellipse cx="338.2" cy="148.8" rx="19.3" ry="5.9" fill="url(#g1)"/>
<ellipse cx="338.2" cy="148.8" rx="19.3" ry="11.8" fill="url(#g1)"/>
<ellipse cx="338.2" cy="148.8" rx="19.3" ry="23.6" fill="url(#g1)"/>
<ellipse cx="346.6" cy="148.8" rx="19.3" ry="5.7" fill="url(#g1)"/>
<ellipse cx="346.6" cy="148.8" rx="19.3" ry="11.4" fill="url(#g1)"/>
<ellipse cx="346.6" cy="148.8" rx="19.3" ry="22.8" fill="url(#g1)"/>
<ellipse cx="355.0" cy="148.8" rx="19.3" ry="5.5" fill="url(#g1)"/>
<ellipse cx="355.0" cy="148.8" rx="19.3" ry="11.0" fill="url(#g1)"/>
<ellipse cx="355.0" cy="148.8" rx="19.3" ry="21.9" fill="url(#g1)"/>
<ellipse cx="363.4" cy="148.8" rx="19.3" ry="5.3" fill="url(#g1)"/>
<ellipse cx="363.4" cy="148.8" rx="19.3" ry="10.7" fill="url(#g1)"/>
<ellipse cx="363.4" cy="148.8" rx="19.3" ry="21.4" fill="url(#g1)"/>
<ellipse cx="235.0" cy="181.8" rx="6.2" ry="29.2" fill="url(#g1)"/>
<ellipse cx="235.0" cy="181.8" rx="6.2" ry="58.4" fill="url(#g1)"/>
<ellipse cx="235.0" cy="181.8" rx="6.2" ry="116.9" fill="url(#g1)"/>
<ellipse cx="237.7" cy="181.8" rx="6.6" ry="25.2" fill="url(#g1)"/>
<ellipse cx="237.7" cy="181.8" rx="6.6" ry="50.5" fill="url(#g2)"/>
<ellipse cx="237.7" cy="181.8" rx="6.6" ry="100.9" fill="url(#g1)"/>
<ellipse cx="240.8" cy="181.8" rx="7.5" ry="20.7" fill="url(#g2)"/>
<ellipse cx="240.8" cy="181.8" rx="7.5" ry="41.4" fill="url(#g2)"/>
<ellipse cx="240.8" cy="181.8" rx="7.5" ry="82.7" fill="url(#g2)"/>
<ellipse cx="244.2" cy="181.8" rx="8.8" ry="18.0" fill="url(#g3)"/>
<ellipse cx="244.2" cy="181.8" rx="8.8" ry="36.0" fill="url(#g4)"/>
<ellipse cx="244.2" cy="181.8" rx="8.8" ry="71.9" fill="url(#g3)"/>
<ellipse cx="248.4" cy="181.8" rx="10.5" ry="16.2" fill="url(#g3)"/>
<ellipse cx="248.4" cy="181.8" rx="10.5" ry="32.3" fill="url(#g4)"/>
<ellipse cx="248.4" cy="181.8" rx="10.5" ry="64.7" fill="url(#g3)"/>
<ellipse cx="253.4" cy="181.8" rx="11.9" ry="14.2" fill="url(#g4)"/>
<ellipse cx="253.4" cy="181.8" rx="11.9" ry="28.3" fill="url(#g5)"/>
<ellipse cx="253.4" cy="181.8" rx="11.9" ry="56.7" fill="url(#g4)"/>
<ellipse cx="258.7" cy="181.8" rx="13.2" ry="12.4" fill="url(#g3)"/>
<ellipse cx="258.7" cy="181.8" rx="13.2" ry="24.8" fill="url(#g4)"/>
<ellipse cx="258.7" cy="181.8" rx="13.2" ry="49.6" fill="url(#g3)"/>
<ellipse cx="264.8" cy="181.8" rx="14.9" ry="10.4" fill="url(#g3)"/>
<ellipse cx="264.8" cy="181.8" rx="14.9" ry="20.7" fill="url(#g4)"/>
<ellipse cx="264.8" cy="181.8" rx="14.9" ry="41.5" fill="url(#g3)"/>
<ellipse cx="271.7" cy="181.8" rx="16.7" ry="9.2" fill="url(#g1)"/>
<ellipse cx="271.7" cy="181.8" rx="16.7" ry="18.4" fill="url(#g2)"/>
<ellipse cx="271.7" cy="181.8" rx="16.7" ry="36.7" fill="url(#g1)"/>
<ellipse cx="279.4" cy="181.8" rx="18.5" ry="7.8" fill="url(#g2)"/>
<ellipse cx="279.4" cy="181.8" rx="18.5" ry="15.7" fill="url(#g3)"/>
<ellipse cx="279.4" cy="181.8" rx="18.5" ry="31.4" fill="url(#g2)"/>
<ellipse cx="287.8" cy="181.8" rx="19.3" ry="7.6" fill="url(#g1)"/>
<ellipse cx="287.8" cy="181.8" rx="19.3" ry="15.1" fill="url(#g1)"/>
<ellipse cx="287.8" cy="181.8" rx="19.3" ry="30.3" fill="url(#g1)"/>
<ellipse cx="296.2" cy="181.8" rx="19.3" ry="7.4" fill="url(#g1)"/>
<ellipse cx="296.2" cy="181.8" rx="19.3" ry="14.8" fill="url(#g2)"/>
<ellipse cx="296.2" cy="181.8" rx="19.3" ry="29.6" fill="url(#g1)"/>
<ellipse cx="304.6" cy="181.8" rx="19.3" ry="7.2" fill="url(#g1)"/>
<ellipse cx="304.6" cy="181.8" rx="19.3" ry="14.3" fill="url(#g1)"/>
<ellipse cx="304.6" cy="181.8" rx="19.3" ry="28.7" fill="url(#g1)"/>
<ellipse cx="313.0" cy="181.8" rx="19.3" ry="6.9" fill="url(#g1)"/>
<ellipse cx="313.0" cy="181.8" rx="19.3" ry="13.8" fill="url(#g1)"/>
<ellipse cx="313.0" cy="181.8" rx="19.3" ry="27.6" fill="url(#g1)"/>
<ellipse cx="321.4" cy="181.8" rx="19.3" ry="6.5" fill="url(#g1)"/>
<ellipse cx="321.4" cy="181.8" rx="19.3" ry="13.1" fill="url(#g1)"/>
<ellipse cx="321.4" cy="181.8" rx="19.3" ry="26.2" fill="url(#g1)"/>
<ellipse cx="329.8" cy="181.8" rx="19.3" ry="6.1" fill="url(#g1)"/>
<ellipse cx="329.8" cy="181.8" rx="19.3" ry="12.3" fill="url(#g1)"/>
<ellipse cx="329.8" cy="181.8" rx="19.3" ry="24.6" fill="url(#g1)"/>
<ellipse cx="338.2" cy="181.8" rx="19.3" ry="5.9" fill="url(#g1)"/>
<ellipse cx="338.2" cy="181.8" rx="19.3" ry="11.8" fill="url(#g1)"/>
<ellipse cx="338.2" cy="181.8" rx="19.3" ry="23.6" fill="url(#g1)"/>
<ellipse cx="346.6" cy="181.8" rx="19.3" ry="5.7" fill="url(#g1)"/>
<ellipse cx="346.6" cy="181.8" rx="19.3" ry="11.4" fill="url(#g1)"/>
<ellipse cx="346.6" cy="181.8" rx="19.3" ry="22.8" fill="url(#g1)"/>
<ellipse cx="355.0" cy="181.8" rx="19.3" ry="5.5" fill="url(#g1)"/>
<ellipse cx="355.0" cy="181.8" rx="19.3" ry="11.0" fill="url(#g1)"/>
<ellipse cx="355.0" cy="181.8" rx="19.3" ry="21.9" fill="url(#g1)"/>
<ellipse cx="363.4" cy="181.8" rx="19.3" ry="5.3" fill="url(#g1)"/>
<ellipse cx="363.4" cy="181.8" rx="19.3" ry="10.7" fill="url(#g1)"/>
<ellipse cx="363.4" cy="181.8" rx="19.3" ry="21.4" fill="url(#g1)"/>
<ellipse cx="235.0" cy="231.3" rx="6.2" ry="29.2" fill="url(#g1)"/>
<ellipse cx="235.0" cy="231.3" rx="6.2" ry="58.4" fill="url(#g1)"/>
<ellipse cx="235.0" cy="231.3" rx="6.2" ry="116.9" fill="url(#g1)"/>
<ellipse cx="237.7" cy="231.3" rx="6.6" ry="25.2" fill="url(#g1)"/>
<ellipse cx="237.7" cy="231.3" rx="6.6" ry="50.5" fill="url(#g2)"/>
<ellipse cx="237.7" cy="231.3" rx="6.6" ry="100.9" fill="url(#g1)"/>
<ellipse cx="240.8" cy="231.3" rx="7.5" ry="20.7" fill="url(#g2)"/>
<ellipse cx="240.8" cy="231.3" rx="7.5" ry="41.4" fill="url(#g2)"/>
<ellipse cx="240.8" cy="231.3" rx="7.5" ry="82.7" fill="url(#g2)"/>
<ellipse cx="244.2" cy="231.3" rx="8.8" ry="18.0" fill="url(#g3)"/>
<ellipse cx="244.2" cy="231.3" rx="8.8" ry="36.0" fill="url(#g4)"/>
<ellipse cx="244.2" cy="231.3" rx="8.8" ry="71.9" fill="url(#g3)"/>
<ellipse cx="248.4" cy="231.3" rx="10.5" ry="16.2" fill="url(#g3)"/>
<ellipse cx="248.4" cy="231.3" rx="10.5" ry="32.3" fill="url(#g5)"/>
<ellipse cx="248.4" cy="231.3" rx="10.5" ry="64.7" fill="url(#g3)"/>
<ellipse cx="253.4" cy="231.3" rx="11.9" ry="14.2" fill="url(#g4)"/>
<ellipse cx="253.4" cy="231.3" rx="11.9" ry="28.3" fill="url(#g5)"/>
<ellipse cx="253.4" cy="231.3" rx="11.9" ry="56.7" fill="url(#g4)"/>
<ellipse cx="258.7" cy="231.3" rx="13.2" ry="12.4" fill="url(#g5)"/>
<ellipse cx="258.7" cy="231.3" rx="13.2" ry="24.8" fill="url(#g7)"/>
<ellipse cx="258.7" cy="231.3" rx="13.2" ry="49.6" fill="url(#g5)"/>
<ellipse cx="264.8" cy="231.3" rx="14.9" ry="10.4" fill="url(#g5)"/>
<ellipse cx="264.8" cy="231.3" rx="14.9" ry="20.7" fill="url(#g7)"/>
<ellipse cx="264.8" cy="231.3" rx="14.9" ry="41.5" fill="url(#g5)"/>
<ellipse cx="271.7" cy="231.3" rx="16.7" ry="9.2" fill="url(#g7)"/>
<ellipse cx="271.7" cy="231.3" rx="16.7" ry="18.4" fill="url(#g10)"/>
<ellipse cx="271.7" cy="231.3" rx="16.7" ry="36.7" fill="url(#g7)"/>
<ellipse cx="279.4" cy="231.3" rx="18.5" ry="7.8" fill="url(#g5)"/>
<ellipse cx="279.4" cy="231.3" rx="18.5" ry="15.7" fill="url(#g6)"/>
<ellipse cx="279.4" cy="231.3" rx="18.5" ry="31.4" fill="url(#g5)"/>
<ellipse cx="287.8" cy="231.3" rx="19.3" ry="7.6" fill="url(#g7)"/>
<ellipse cx="287.8" cy="231.3" rx="19.3" ry="15.1" fill="url(#g10)"/>
<ellipse cx="287.8" cy="231.3" rx="19.3" ry="30.3" fill="url(#g7)"/>
<ellipse cx="296.2" cy="231.3" rx="19.3" ry="7.4" fill="url(#g3)"/>
<ellipse cx="296.2" cy="231.3" rx="19.3" ry="14.8" fill="url(#g3)"/>
<ellipse cx="296.2" cy="231.3" rx="19.3" ry="29.6" fill="url(#g3)"/>
<ellipse cx="304.6" cy="231.3" rx="19.3" ry="7.2" fill="url(#g5)"/>
<ellipse cx="304.6" cy="231.3" rx="19.3" ry="14.3" fill="url(#g6)"/>
<ellipse cx="304.6" cy="231.3" rx="19.3" ry="28.7" fill="url(#g5)"/>
<ellipse cx="313.0" cy="231.3" rx="19.3" ry="6.9" fill="url(#g2)"/>
<ellipse cx="313.0" cy="231.3" rx="19.3" ry="13.8" fill="url(#g3)"/>
<ellipse cx="313.0" cy="231.3" rx="19.3" ry="27.6" fill="url(#g2)"/>
<ellipse cx="321.4" cy="231.3" rx="19.3" ry="6.5" fill="url(#g3)"/>
<ellipse cx="321.4" cy="231.3" rx="19.3" ry="13.1" fill="url(#g5)"/>
<ellipse cx="321.4" cy="231.3" rx="19.3" ry="26.2" fill="url(#g3)"/>
<ellipse cx="329.8" cy="231.3" rx="19.3" ry="6.1" fill="url(#g3)"/>
<ellipse cx="329.8" cy="231.3" rx="19.3" ry="12.3" fill="url(#g4)"/>
<ellipse cx="329.8" cy="231.3" rx="19.3" ry="24.6" fill="url(#g3)"/>
<ellipse cx="338.2" cy="231.3" rx="19.3" ry="5.9" fill="url(#g2)"/>
<ellipse cx="338.2" cy="231.3" rx="19.3" ry="11.8" fill="url(#g3)"/>
<ellipse cx="338.2" cy="231.3" rx="19.3" ry="23.6" fill="url(#g2)"/>
<ellipse cx="346.6" cy="231.3" rx="19.3" ry="5.7" fill="url(#g3)"/>
<ellipse cx="346.6" cy="231.3" rx="19.3" ry="11.4" fill="url(#g4)"/>
<ellipse cx="346.6" cy="231.3" rx="19.3" ry="22.8" fill="url(#g3)"/>
<ellipse cx="355.0" cy="231.3" rx="19.3" ry="5.5" fill="url(#g1)"/>
<ellipse cx="355.0" cy="231.3" rx="19.3" ry="11.0" fill="url(#g1)"/>
<ellipse cx="355.0" cy="231.3" rx="19.3" ry="21.9" fill="url(#g1)"/>
<ellipse cx="363.4" cy="231.3" rx="19.3" ry="5.3" fill="url(#g4)"/>
<ellipse cx="363.4" cy="231.3" rx="19.3" ry="10.7" fill="url(#g6)"/>
<ellipse cx="363.4" cy="231.3" rx="19.3" ry="21.4" fill="url(#g4)"/>
<ellipse cx="235.0" cy="264.3" rx="6.2" ry="29.2" fill="url(#g1)"/>
<ellipse cx="235.0" cy="264.3" rx="6.2" ry="58.4" fill="url(#g1)"/>
<ellipse cx="235.0" cy="264.3" rx="6.2" ry="116.9" fill="url(#g1)"/>
<ellipse cx="237.7" cy="264.3" rx="6.6" ry="25.2" fill="url(#g1)"/>
<ellipse cx="237.7" cy="264.3" rx="6.6" ry="50.5" fill="url(#g2)"/>
<ellipse cx="237.7" cy="264.3" rx="6.6" ry="100.9" fill="url(#g1)"/>
<ellipse cx="240.8" cy="264.3" rx="7.5" ry="20.7" fill="url(#g1)"/>
<ellipse cx="240.8" cy="264.3" rx="7.5" ry="41.4" fill="url(#g2)"/>
<ellipse cx="240.8" cy="264.3" rx="7.5" ry="82.7" fill="url(#g1)"/>
<ellipse cx="244.2" cy="264.3" rx="8.8" ry="18.0" fill="url(#g3)"/>
<ellipse cx="244.2" cy="264.3" rx="8.8" ry="36.0" fill="url(#g4)"/>
<ellipse cx="244.2" cy="264.3" rx="8.8" ry="71.9" fill="url(#g3)"/>
<ellipse cx="248.4" cy="264.3" rx="10.5" ry="16.2" fill="url(#g3)"/>
<ellipse cx="248.4" cy="264.3" rx="10.5" ry="32.3" fill="url(#g4)"/>
<ellipse cx="248.4" cy="264.3" rx="10.5" ry="64.7" fill="url(#g3)"/>
<ellipse cx="253.4" cy="264.3" rx="11.9" ry="14.2" fill="url(#g3)"/>
<ellipse cx="253.4" cy="264.3" rx="11.9" ry="28.3" fill="url(#g5)"/>
<ellipse cx="253.4" cy="264.3" rx="11.9" ry="56.7" fill="url(#g3)"/>
<ellipse cx="258.7" cy="264.3" rx="13.2" ry="12.4" fill="url(#g2)"/>
<ellipse cx="258.7" cy="264.3" rx="13.2" ry="24.8" fill="url(#g3)"/>
<ellipse cx="258.7" cy="264.3" rx="13.2" ry="49.6" fill="url(#g2)"/>
<ellipse cx="264.8" cy="264.3" rx="14.9" ry="10.4" fill="url(#g2)"/>
<ellipse cx="264.8" cy="264.3" rx="14.9" ry="20.7" fill="url(#g3)"/>
<ellipse cx="264.8" cy="264.3" rx="14.9" ry="41.5" fill="url(#g2)"/>
<ellipse cx="271.7" cy="264.3" rx="16.7" ry="9.2" fill="url(#g1)"/>
<ellipse cx="271.7" cy="264.3" rx="16.7" ry="18.4" fill="url(#g2)"/>
<ellipse cx="271.7" cy="264.3" rx="16.7" ry="36.7" fill="url(#g1)"/>
<ellipse cx="279.4" cy="264.3" rx="18.5" ry="7.8" fill="url(#g2)"/>
<ellipse cx="279.4" cy="264.3" rx="18.5" ry="15.7" fill="url(#g2)"/>
<ellipse cx="279.4" cy="264.3" rx="18.5" ry="31.4" fill="url(#g2)"/>
<ellipse cx="287.8" cy="264.3" rx="19.3" ry="7.6" fill="url(#g1)"/>
<ellipse cx="287.8" cy="264.3" rx="19.3" ry="15.1" fill="url(#g1)"/>
<ellipse cx="287.8" cy="264.3" rx="19.3" ry="30.3" fill="url(#g1)"/>
<ellipse cx="296.2" cy="264.3" rx="19.3" ry="7.4" fill="url(#g1)"/>
<ellipse cx="296.2" cy="264.3" rx="19.3" ry="14.8" fill="url(#g2)"/>
<ellipse cx="296.2" cy="264.3" rx="19.3" ry="29.6" fill="url(#g1)"/>
<ellipse cx="304.6" cy="264.3" rx="19.3" ry="7.2" fill="url(#g1)"/>
<ellipse cx="304.6" cy="264.3" rx="19.3" ry="14.3" fill="url(#g1)"/>
<ellipse cx="304.6" cy="264.3" rx="19.3" ry="28.7" fill="url(#g1)"/>
<ellipse cx="313.0" cy="264.3" rx="19.3" ry="6.9" fill="url(#g1)"/>
<ellipse cx="313.0" cy="264.3" rx="19.3" ry="13.8" fill="url(#g1)"/>
<ellipse cx="313.0" cy="264.3" rx="19.3" ry="27.6" fill="url(#g1)"/>
<ellipse cx="321.4" cy="264.3" rx="19.3" ry="6.5" fill="url(#g1)"/>
<ellipse cx="321.4" cy="264.3" rx="19.3" ry="13.1" fill="url(#g1)"/>
<ellipse cx="321.4" cy="264.3" rx="19.3" ry="26.2" fill="url(#g1)"/>
<ellipse cx="329.8" cy="264.3" rx="19.3" ry="6.1" fill="url(#g1)"/>
<ellipse cx="329.8" cy="264.3" rx="19.3" ry="12.3" fill="url(#g1)"/>
<ellipse cx="329.8" cy="264.3" rx="19.3" ry="24.6" fill="url(#g1)"/>
<ellipse cx="338.2" cy="264.3" rx="19.3" ry="5.9" fill="url(#g1)"/>
<ellipse cx="338.2" cy="264.3" rx="19.3" ry="11.8" fill="url(#g1)"/>
<ellipse cx="338.2" cy="264.3" rx="19.3" ry="23.6" fill="url(#g1)"/>
<ellipse cx="346.6" cy="264.3" rx="19.3" ry="5.7" fill="url(#g1)"/>
<ellipse cx="346.6" cy="264.3" rx="19.3" ry="11.4" fill="url(#g1)"/>
<ellipse cx="346.6" cy="264.3" rx="19.3" ry="22.8" fill="url(#g1)"/>
<ellipse cx="355.0" cy="264.3" rx="19.3" ry="5.5" fill="url(#g1)"/>
<ellipse cx="355.0" cy="264.3" rx="19.3" ry="11.0" fill="url(#g1)"/>
<ellipse cx="355.0" cy="264.3" rx="19.3" ry="21.9" fill="url(#g1)"/>
<ellipse cx="363.4" cy="264.3" rx="19.3" ry="5.3" fill="url(#g1)"/>
<ellipse cx="363.4" cy="264.3" rx="19.3" ry="10.7" fill="url(#g1)"/>
<ellipse cx="363.4" cy="264.3" rx="19.3" ry="21.4" fill="url(#g1)"/>
<ellipse cx="235.0" cy="297.3" rx="6.2" ry="29.2" fill="url(#g1)"/>
<ellipse cx="235.0" cy="297.3" rx="6.2" ry="58.4" fill="url(#g1)"/>
<ellipse cx="235.0" cy="297.3" rx="6.2" ry="116.9" fill="url(#g1)"/>
<ellipse cx="237.7" cy="297.3" rx="6.6" ry="25.2" fill="url(#g1)"/>
<ellipse cx="237.7" cy="297.3" rx="6.6" ry="50.5" fill="url(#g2)"/>
<ellipse cx="237.7" cy="297.3" rx="6.6" ry="100.9" fill="url(#g1)"/>
<ellipse cx="240.8" cy="297.3" rx="7.5" ry="20.7" fill="url(#g1)"/>
<ellipse cx="240.8" cy="297.3" rx="7.5" ry="41.4" fill="url(#g2)"/>
<ellipse cx="240.8" cy="297.3" rx="7.5" ry="82.7" fill="url(#g1)"/>
<ellipse cx="244.2" cy="297.3" rx="8.8" ry="18.0" fill="url(#g3)"/>
<ellipse cx="244.2" cy="297.3" rx="8.8" ry="36.0" fill="url(#g4)"/>
<ellipse cx="244.2" cy="297.3" rx="8.8" ry="71.9" fill="url(#g3)"/>
<ellipse cx="248.4" cy="297.3" rx="10.5" ry="16.2" fill="url(#g3)"/>
<ellipse cx="248.4" cy="297.3" rx="10.5" ry="32.3" fill="url(#g4)"/>
<ellipse cx="248.4" cy="297.3" rx="10.5" ry="64.7" fill="url(#g3)"/>
<ellipse cx="253.4" cy="297.3" rx="11.9" ry="14.2" fill="url(#g3)"/>
<ellipse cx="253.4" cy="297.3" rx="11.9" ry="28.3" fill="url(#g5)"/>
<ellipse cx="253.4" cy="297.3" rx="11.9" ry="56.7" fill="url(#g3)"/>
<ellipse cx="258.7" cy="297.3" rx="13.2" ry="12.4" fill="url(#g2)"/>
<ellipse cx="258.7" cy="297.3" rx="13.2" ry="24.8" fill="url(#g3)"/>
<ellipse cx="258.7" cy="297.3" rx="13.2" ry="49.6" fill="url(#g2)"/>
<ellipse cx="264.8" cy="297.3" rx="14.9" ry="10.4" fill="url(#g2)"/>
<ellipse cx="264.8" cy="297.3" rx="14.9" ry="20.7" fill="url(#g3)"/>
<ellipse cx="264.8" cy="297.3" rx="14.9" ry="41.5" fill="url(#g2)"/>
<ellipse cx="271.7" cy="297.3" rx="16.7" ry="9.2" fill="url(#g1)"/>
<ellipse cx="271.7" cy="297.3" rx="16.7" ry="18.4" fill="url(#g2)"/>
<ellipse cx="271.7" cy="297.3" rx="16.7" ry="36.7" fill="url(#g1)"/>
<ellipse cx="279.4" cy="297.3" rx="18.5" ry="7.8" fill="url(#g2)"/>
<ellipse cx="279.4" cy="297.3" rx="18.5" ry="15.7" fill="url(#g2)"/>
<ellipse cx="279.4" cy="297.3" rx="18.5" ry="31.4" fill="url(#g2)"/>
<ellipse cx="287.8" cy="297.3" rx="19.3" ry="7.6" fill="url(#g1)"/>
<ellipse cx="287.8" cy="297.3" rx="19.3" ry="15.1" fill="url(#g1)"/>
<ellipse cx="287.8" cy="297.3" rx="19.3" ry="30.3" fill="url(#g1)"/>
<ellipse cx="296.2" cy="297.3" rx="19.3" ry="7.4" fill="url(#g1)"/>
<ellipse cx="296.2" cy="297.3" rx="19.3" ry="14.8" fill="url(#g2)"/>
<ellipse cx="296.2" cy="297.3" rx="19.3" ry="29.6" fill="url(#g1)"/>
<ellipse cx="304.6" cy="297.3" rx="19.3" ry="7.2" fill="url(#g1)"/>
<ellipse cx="304.6" cy="297.3" rx="19.3" ry="14.3" fill="url(#g1)"/>
<ellipse cx="304.6" cy="297.3" rx="19.3" ry="28.7" fill="url(#g1)"/>
<ellipse cx="313.0" cy="297.3" rx="19.3" ry="6.9" fill="url(#g1)"/>
<ellipse cx="313.0" cy="297.3" rx="19.3" ry="13.8" fill="url(#g1)"/>
<ellipse cx="313.0" cy="297.3" rx="19.3" ry="27.6" fill="url(#g1)"/>
<ellipse cx="321.4" cy="297.3" rx="19.3" ry="6.5" fill="url(#g1)"/>
<ellipse cx="321.4" cy="297.3" rx="19.3" ry="13.1" fill="url(#g1)"/>
<ellipse cx="321.4" cy="297.3" rx="19.3" ry="26.2" fill="url(#g1)"/>
<ellipse cx="329.8" cy="297.3" rx="19.3" ry="6.1" fill="url(#g1)"/>
<ellipse cx="329.8" cy="297.3" rx="19.3" ry="12.3" fill="url(#g1)"/>
<ellipse cx="329.8" cy="297.3" rx="19.3" ry="24.6" fill="url(#g1)"/>
<ellipse cx="338.2" cy="297.3" rx="19.3" ry="5.9" fill="url(#g1)"/>
<ellipse cx="338.2" cy="297.3" rx="19.3" ry="11.8" fill="url(#g1)"/>
<ellipse cx="338.2" cy="297.3" rx="19.3" ry="23.6" fill="url(#g1)"/>
<ellipse cx="346.6" cy="297.3" rx="19.3" ry="5.7" fill="url(#g1)"/>
<ellipse cx="346.6" cy="297.3" rx="19.3" ry="11.4" fill="url(#g1)"/>
<ellipse cx="346.6" cy="297.3" rx="19.3" ry="22.8" fill="url(#g1)"/>
<ellipse cx="355.0" cy="297.3" rx="19.3" ry="5.5" fill="url(#g1)"/>
<ellipse cx="355.0" cy="297.3" rx="19.3" ry="11.0" fill="url(#g1)"/>
<ellipse cx="355.0" cy="297.3" rx="19.3" ry="21.9" fill="url(#g1)"/>
<ellipse cx="363.4" cy="297.3" rx="19.3" ry="5.3" fill="url(#g1)"/>
<ellipse cx="363.4" cy="297.3" rx="19.3" ry="10.7" fill="url(#g1)"/>
<ellipse cx="363.4" cy="297.3" rx="19.3" ry="21.4" fill="url(#g1)"/>
<ellipse cx="235.0" cy="329.9" rx="6.2" ry="29.2" fill="url(#g1)"/>
<ellipse cx="235.0" cy="329.9" rx="6.2" ry="58.4" fill="url(#g1)"/>
<ellipse cx="235.0" cy="329.9" rx="6.2" ry="116.9" fill="url(#g1)"/>
<ellipse cx="237.7" cy="329.9" rx="6.6" ry="25.2" fill="url(#g1)"/>
<ellipse cx="237.7" cy="329.9" rx="6.6" ry="50.5" fill="url(#g1)"/>
<ellipse cx="237.7" cy="329.9" rx="6.6" ry="100.9" fill="url(#g1)"/>
<ellipse cx="240.8" cy="329.9" rx="7.5" ry="20.7" fill="url(#g2)"/>
<ellipse cx="240.8" cy="329.9" rx="7.5" ry="41.4" fill="url(#g2)"/>
<ellipse cx="240.8" cy="329.9" rx="7.5" ry="82.7" fill="url(#g2)"/>
<ellipse cx="244.2" cy="329.9" rx="8.8" ry="18.0" fill="url(#g2)"/>
<ellipse cx="244.2" cy="329.9" rx="8.8" ry="36.0" fill="url(#g3)"/>
<ellipse cx="244.2" cy="329.9" rx="8.8" ry="71.9" fill="url(#g2)"/>
<ellipse cx="248.4" cy="329.9" rx="10.5" ry="16.2" fill="url(#g4)"/>
<ellipse cx="248.4" cy="329.9" rx="10.5" ry="32.3" fill="url(#g5)"/>
<ellipse cx="248.4" cy="329.9" rx="10.5" ry="64.7" fill="url(#g4)"/>
<ellipse cx="253.4" cy="329.9" rx="11.9" ry="14.2" fill="url(#g4)"/>
<ellipse cx="253.4" cy="329.9" rx="11.9" ry="28.3" fill="url(#g6)"/>
<ellipse cx="253.4" cy="329.9" rx="11.9" ry="56.7" fill="url(#g4)"/>
<ellipse cx="258.7" cy="329.9" rx="13.2" ry="12.4" fill="url(#g5)"/>
<ellipse cx="258.7" cy="329.9" rx="13.2" ry="24.8" fill="url(#g7)"/>
<ellipse cx="258.7" cy="329.9" rx="13.2" ry="49.6" fill="url(#g5)"/>
<ellipse cx="264.8" cy="329.9" rx="14.9" ry="10.4" fill="url(#g6)"/>
<ellipse cx="264.8" cy="329.9" rx="14.9" ry="20.7" fill="url(#g8)"/>
<ellipse cx="264.8" cy="329.9" rx="14.9" ry="41.5" fill="url(#g6)"/>
<ellipse cx="271.7" cy="329.9" rx="16.7" ry="9.2" fill="url(#g7)"/>
<ellipse cx="271.7" cy="329.9" rx="16.7" ry="18.4" fill="url(#g9)"/>
<ellipse cx="271.7" cy="329.9" rx="16.7" ry="36.7" fill="url(#g7)"/>
<ellipse cx="279.4" cy="329.9" rx="18.5" ry="7.8" fill="url(#g8)"/>
<ellipse cx="279.4" cy="329.9" rx="18.5" ry="15.7" fill="url(#g10)"/>
<ellipse cx="279.4" cy="329.9" rx="18.5" ry="31.4" fill="url(#g8)"/>
<ellipse cx="287.8" cy="329.9" rx="19.3" ry="7.6" fill="url(#g7)"/>
<ellipse cx="287.8" cy="329.9" rx="19.3" ry="15.1" fill="url(#g9)"/>
<ellipse cx="287.8" cy="329.9" rx="19.3" ry="30.3" fill="url(#g7)"/>
<ellipse cx="296.2" cy="329.9" rx="19.3" ry="7.4" fill="url(#g7)"/>
<ellipse cx="296.2" cy="329.9" rx="19.3" ry="14.8" fill="url(#g9)"/>
<ellipse cx="296.2" cy="329.9" rx="19.3" ry="29.6" fill="url(#g7)"/>
<ellipse cx="304.6" cy="329.9" rx="19.3" ry="7.2" fill="url(#g5)"/>
<ellipse cx="304.6" cy="329.9" rx="19.3" ry="14.3" fill="url(#g7)"/>
<ellipse cx="304.6" cy="329.9" rx="19.3" ry="28.7" fill="url(#g5)"/>
<ellipse cx="313.0" cy="329.9" rx="19.3" ry="6.9" fill="url(#g6)"/>
<ellipse cx="313.0" cy="329.9" rx="19.3" ry="13.8" fill="url(#g9)"/>
<ellipse cx="313.0" cy="329.9" rx="19.3" ry="27.6" fill="url(#g6)"/>
<ellipse cx="321.4" cy="329.9" rx="19.3" ry="6.5" fill="url(#g3)"/>
<ellipse cx="321.4" cy="329.9" rx="19.3" ry="13.1" fill="url(#g4)"/>
<ellipse cx="321.4" cy="329.9" rx="19.3" ry="26.2" fill="url(#g3)"/>
<ellipse cx="329.8" cy="329.9" rx="19.3" ry="6.1" fill="url(#g5)"/>
<ellipse cx="329.8" cy="329.9" rx="19.3" ry="12.3" fill="url(#g7)"/>
<ellipse cx="329.8" cy="329.9" rx="19.3" ry="24.6" fill="url(#g5)"/>
<ellipse cx="338.2" cy="329.9" rx="19.3" ry="5.9" fill="url(#g2)"/>
<ellipse cx="338.2" cy="329.9" rx="19.3" ry="11.8" fill="url(#g3)"/>
<ellipse cx="338.2" cy="329.9" rx="19.3" ry="23.6" fill="url(#g2)"/>
<ellipse cx="346.6" cy="329.9" rx="19.3" ry="5.7" fill="url(#g5)"/>
<ellipse cx="346.6" cy="329.9" rx="19.3" ry="11.4" fill="url(#g6)"/>
<ellipse cx="346.6" cy="329.9" rx="19.3" ry="22.8" fill="url(#g5)"/>
<ellipse cx="355.0" cy="329.9" rx="19.3" ry="5.5" fill="url(#g1)"/>
<ellipse cx="355.0" cy="329.9" rx="19.3" ry="11.0" fill="url(#g2)"/>
<ellipse cx="355.0" cy="329.9" rx="19.3" ry="21.9" fill="url(#g1)"/>
<ellipse cx="363.4" cy="329.9" rx="19.3" ry="5.3" fill="url(#g5)"/>
<ellipse cx="363.4" cy="329.9" rx="19.3" ry="10.7" fill="url(#g7)"/>
<ellipse cx="363.4" cy="329.9" rx="19.3" ry="21.4" fill="url(#g5)"/>
<ellipse cx="235.0" cy="396.6" rx="6.2" ry="29.2" fill="url(#g1)"/>
<ellipse cx="235.0" cy="396.6" rx="6.2" ry="58.4" fill="url(#g1)"/>
<ellipse cx="235.0" cy="396.6" rx="6.2" ry="116.9" fill="url(#g1)"/>
<ellipse cx="237.7" cy="396.6" rx="6.6" ry="25.2" fill="url(#g1)"/>
<ellipse cx="237.7" cy="396.6" rx="6.6" ry="50.5" fill="url(#g1)"/>
<ellipse cx="237.7" cy="396.6" rx="6.6" ry="100.9" fill="url(#g1)"/>
<ellipse cx="240.8" cy="396.6" rx="7.5" ry="20.7" fill="url(#g2)"/>
<ellipse cx="240.8" cy="396.6" rx="7.5" ry="41.4" fill="url(#g2)"/>
<ellipse cx="240.8" cy="396.6" rx="7.5" ry="82.7" fill="url(#g2)"/>
<ellipse cx="244.2" cy="396.6" rx="8.8" ry="18.0" fill="url(#g2)"/>
<ellipse cx="244.2" cy="396.6" rx="8.8" ry="36.0" fill="url(#g3)"/>
<ellipse cx="244.2" cy="396.6" rx="8.8" ry="71.9" fill="url(#g2)"/>
<ellipse cx="248.4" cy="396.6" rx="10.5" ry="16.2" fill="url(#g4)"/>
<ellipse cx="248.4" cy="396.6" rx="10.5" ry="32.3" fill="url(#g5)"/>
<ellipse cx="248.4" cy="396.6" rx="10.5" ry="64.7" fill="url(#g4)"/>
<ellipse cx="253.4" cy="396.6" rx="11.9" ry="14.2" fill="url(#g4)"/>
<ellipse cx="253.4" cy="396.6" rx="11.9" ry="28.3" fill="url(#g6)"/>
<ellipse cx="253.4" cy="396.6" rx="11.9" ry="56.7" fill="url(#g4)"/>
<ellipse cx="258.7" cy="396.6" rx="13.2" ry="12.4" fill="url(#g5)"/>
<ellipse cx="258.7" cy="396.6" rx="13.2" ry="24.8" fill="url(#g7)"/>
<ellipse cx="258.7" cy="396.6" rx="13.2" ry="49.6" fill="url(#g5)"/>
<ellipse cx="264.8" cy="396.6" rx="14.9" ry="10.4" fill="url(#g6)"/>
<ellipse cx="264.8" cy="396.6" rx="14.9" ry="20.7" fill="url(#g8)"/>
<ellipse cx="264.8" cy="396.6" rx="14.9" ry="41.5" fill="url(#g6)"/>
<ellipse cx="271.7" cy="396.6" rx="16.7" ry="9.2" fill="url(#g7)"/>
<ellipse cx="271.7" cy="396.6" rx="16.7" ry="18.4" fill="url(#g9)"/>
<ellipse cx="271.7" cy="396.6" rx="16.7" ry="36.7" fill="url(#g7)"/>
<ellipse cx="279.4" cy="396.6" rx="18.5" ry="7.8" fill="url(#g8)"/>
<ellipse cx="279.4" cy="396.6" rx="18.5" ry="15.7" fill="url(#g10)"/>
<ellipse cx="279.4" cy="396.6" rx="18.5" ry="31.4" fill="url(#g8)"/>
<ellipse cx="287.8" cy="396.6" rx="19.3" ry="7.6" fill="url(#g7)"/>
<ellipse cx="287.8" cy="396.6" rx="19.3" ry="15.1" fill="url(#g9)"/>
<ellipse cx="287.8" cy="396.6" rx="19.3" ry="30.3" fill="url(#g7)"/>
<ellipse cx="296.2" cy="396.6" rx="19.3" ry="7.4" fill="url(#g7)"/>
<ellipse cx="296.2" cy="396.6" rx="19.3" ry="14.8" fill="url(#g9)"/>
<ellipse cx="296.2" cy="396.6" rx="19.3" ry="29.6" fill="url(#g7)"/>
<ellipse cx="304.6" cy="396.6" rx="19.3" ry="7.2" fill="url(#g5)"/>
<ellipse cx="304.6" cy="396.6" rx="19.3" ry="14.3" fill="url(#g7)"/>
<ellipse cx="304.6" cy="396.6" rx="19.3" ry="28.7" fill="url(#g5)"/>
<ellipse cx="313.0" cy="396.6" rx="19.3" ry="6.9" fill="url(#g6)"/>
<ellipse cx="313.0" cy="396.6" rx="19.3" ry="13.8" fill="url(#g9)"/>
<ellipse cx="313.0" cy="396.6" rx="19.3" ry="27.6" fill="url(#g6)"/>
<ellipse cx="321.4" cy="396.6" rx="19.3" ry="6.5" fill="url(#g3)"/>
<ellipse cx="321.4" cy="396.6" rx="19.3" ry="13.1" fill="url(#g4)"/>
<ellipse cx="321.4" cy="396.6" rx="19.3" ry="26.2" fill="url(#g3)"/>
<ellipse cx="329.8" cy="396.6" rx="19.3" ry="6.1" fill="url(#g5)"/>
<ellipse cx="329.8" cy="396.6" rx="19.3" ry="12.3" fill="url(#g7)"/>
<ellipse cx="329.8" cy="396.6" rx="19.3" ry="24.6" fill="url(#g5)"/>
<ellipse cx="338.2" cy="396.6" rx="19.3" ry="5.9" fill="url(#g2)"/>
<ellipse cx="338.2" cy="396.6" rx="19.3" ry="11.8" fill="url(#g3)"/>
<ellipse cx="338.2" cy="396.6" rx="19.3" ry="23.6" fill="url(#g2)"/>
<ellipse cx="346.6" cy="396.6" rx="19.3" ry="5.7" fill="url(#g5)"/>
<ellipse cx="346.6" cy="396.6" rx="19.3" ry="11.4" fill="url(#g6)"/>
<ellipse cx="346.6" cy="396.6" rx="19.3" ry="22.8" fill="url(#g5)"/>
<ellipse cx="355.0" cy="396.6" rx="19.3" ry="5.5" fill="url(#g1)"/>
<ellipse cx="355.0" cy="396.6" rx="19.3" ry="11.0" fill="url(#g2)"/>
<ellipse cx="355.0" cy="396.6" rx="19.3" ry="21.9" fill="url(#g1)"/>
<ellipse cx="363.4" cy="396.6" rx="19.3" ry="5.3" fill="url(#g5)"/>
<ellipse cx="363.4" cy="396.6" rx="19.3" ry="10.7" fill="url(#g7)"/>
<ellipse cx="363.4" cy="396.6" rx="19.3" ry="21.4" fill="url(#g5)"/>
<ellipse cx="237.5" cy="99.0" rx="10.0" ry="28.0" fill="url(#g6)"/>
<ellipse cx="237.5" cy="231.3" rx="10.0" ry="24.0" fill="url(#g6)"/>
<ellipse cx="237.5" cy="329.9" rx="10.0" ry="28.0" fill="url(#g6)"/>
<ellipse cx="242.0" cy="396.6" rx="12.0" ry="22.0" fill="url(#g4)"/>
<ellipse cx="251.0" cy="164.5" rx="10.0" ry="5.5" fill="url(#k)" opacity="0.450"/>
<ellipse cx="240.0" cy="247.0" rx="5.0" ry="10.0" fill="url(#k)" opacity="0.450"/>
<ellipse cx="254.7" cy="247.0" rx="6.0" ry="4.0" fill="url(#k)" opacity="0.350"/>
<ellipse cx="240.0" cy="313.5" rx="5.0" ry="10.0" fill="url(#k)" opacity="0.450"/>
<ellipse cx="254.7" cy="315.5" rx="6.0" ry="4.0" fill="url(#k)" opacity="0.350"/>
<ellipse cx="240.0" cy="280.5" rx="4.5" ry="8.0" fill="url(#k)" opacity="0.350"/>
</g></g>
<rect x="219.0" y="33.4" width="114.6" height="395.8" fill="none" stroke="#15153a" stroke-width="0.7"/>
<path d="M219.0 99.4h2.5M333.6 99.4h-2.5M219.0 165.3h2.5M333.6 165.3h-2.5M219.0 231.3h2.5M333.6 231.3h-2.5M219.0 297.3h2.5M333.6 297.3h-2.5M219.0 363.2h2.5M333.6 363.2h-2.5M257.2 33.4v2.5M257.2 429.2v-2.5M295.2 33.4v2.5M295.2 429.2v-2.5" stroke="#101040" stroke-width="0.6" fill="none" opacity="0.7"/>
<g clip-path="url(#cpc)"><g filter="url(#jet)">
<rect x="387.4" y="31.4" width="118.2" height="399.8" fill="#000"/>
<rect x="387.4" y="31.4" width="118.2" height="399.8" fill="#fff" opacity="0.033"/>
<ellipse cx="402.0" cy="96.2" rx="26.5" ry="13.0" fill="url(#g46)"/>
<ellipse cx="402.0" cy="96.0" rx="46.0" ry="25.0" fill="url(#g4)"/>
<ellipse cx="424.0" cy="97.3" rx="30.0" ry="8.0" fill="url(#g13)" transform="rotate(2.0 424.0 97.3)"/>
<ellipse cx="447.0" cy="98.6" rx="34.0" ry="7.8" fill="url(#g15)" transform="rotate(2.0 447.0 98.6)"/>
<ellipse cx="468.0" cy="99.8" rx="30.0" ry="7.2" fill="url(#g8)" transform="rotate(1.0 468.0 99.8)"/>
<ellipse cx="443.0" cy="99.0" rx="60.0" ry="15.0" fill="url(#g4)" transform="rotate(1.0 443.0 99.0)"/>
<ellipse cx="420.5" cy="104.3" rx="9.0" ry="3.2" fill="url(#k)" opacity="0.550"/>
<ellipse cx="414.5" cy="148.6" rx="32.0" ry="9.8" fill="url(#g20)"/>
<ellipse cx="415.5" cy="148.6" rx="46.0" ry="15.0" fill="url(#g4)"/>
<ellipse cx="414.5" cy="181.3" rx="32.0" ry="9.8" fill="url(#g20)"/>
<ellipse cx="415.5" cy="181.3" rx="46.0" ry="15.0" fill="url(#g4)"/>
<ellipse cx="420.0" cy="231.5" rx="46.0" ry="16.0" fill="url(#g18)"/>
<ellipse cx="455.0" cy="231.5" rx="40.0" ry="11.0" fill="url(#g8)"/>
<ellipse cx="397.0" cy="231.0" rx="12.0" ry="9.0" fill="url(#g5)"/>
<ellipse cx="416.0" cy="231.8" rx="13.0" ry="5.5" fill="url(#k)" opacity="0.800"/>
<ellipse cx="412.0" cy="264.0" rx="24.0" ry="9.0" fill="url(#g23)"/>
<ellipse cx="412.0" cy="264.0" rx="32.0" ry="13.0" fill="url(#g4)"/>
<ellipse cx="411.5" cy="297.4" rx="24.0" ry="9.0" fill="url(#g22)"/>
<ellipse cx="411.5" cy="297.4" rx="32.0" ry="13.0" fill="url(#g4)"/>
<ellipse cx="400.5" cy="327.6" rx="30.0" ry="11.5" fill="url(#g45)"/>
<ellipse cx="401.0" cy="328.0" rx="44.0" ry="22.0" fill="url(#g4)"/>
<ellipse cx="427.0" cy="328.3" rx="30.0" ry="7.5" fill="url(#g18)"/>
<ellipse cx="450.0" cy="328.8" rx="36.0" ry="7.5" fill="url(#g14)"/>
<ellipse cx="476.0" cy="329.0" rx="34.0" ry="7.5" fill="url(#g8)"/>
<ellipse cx="450.0" cy="329.0" rx="62.0" ry="14.0" fill="url(#g4)"/>
<ellipse cx="444.5" cy="396.0" rx="50.0" ry="8.2" fill="url(#g19)"/>
<ellipse cx="444.5" cy="396.0" rx="64.0" ry="13.0" fill="url(#g5)"/>
<ellipse cx="394.0" cy="249.0" rx="9.0" ry="5.5" fill="url(#g4)"/>
<ellipse cx="423.0" cy="247.0" rx="10.0" ry="5.5" fill="url(#g4)"/>
<ellipse cx="404.0" cy="279.0" rx="9.0" ry="5.0" fill="url(#g4)"/>
<ellipse cx="430.0" cy="280.0" rx="9.0" ry="5.0" fill="url(#g4)"/>
<ellipse cx="399.0" cy="311.0" rx="10.0" ry="5.5" fill="url(#g5)"/>
<ellipse cx="431.0" cy="313.0" rx="10.0" ry="5.0" fill="url(#g4)"/>
<ellipse cx="419.0" cy="337.0" rx="13.0" ry="4.5" fill="url(#g4)"/>
<ellipse cx="394.0" cy="249.0" rx="4.5" ry="2.5" fill="url(#k)" opacity="0.500"/>
<ellipse cx="423.0" cy="247.0" rx="5.0" ry="2.5" fill="url(#k)" opacity="0.500"/>
<ellipse cx="404.0" cy="279.0" rx="4.5" ry="2.3" fill="url(#k)" opacity="0.500"/>
<ellipse cx="430.0" cy="280.0" rx="4.5" ry="2.3" fill="url(#k)" opacity="0.500"/>
<ellipse cx="399.0" cy="311.0" rx="5.0" ry="2.5" fill="url(#k)" opacity="0.500"/>
<ellipse cx="431.0" cy="313.0" rx="5.0" ry="2.3" fill="url(#k)" opacity="0.500"/>
<ellipse cx="419.0" cy="337.0" rx="7.0" ry="2.0" fill="url(#k)" opacity="0.500"/>
</g></g>
<rect x="389.4" y="33.4" width="114.2" height="395.8" fill="none" stroke="#15153a" stroke-width="0.7"/>
<path d="M389.4 99.4h2.5M503.6 99.4h-2.5M389.4 165.3h2.5M503.6 165.3h-2.5M389.4 231.3h2.5M503.6 231.3h-2.5M389.4 297.3h2.5M503.6 297.3h-2.5M389.4 363.2h2.5M503.6 363.2h-2.5M422.7 33.4v2.5M422.7 429.2v-2.5M463.1 33.4v2.5M463.1 429.2v-2.5" stroke="#101040" stroke-width="0.6" fill="none" opacity="0.7"/>
<g clip-path="url(#cpd)"><g filter="url(#jet)">
<rect x="41.6" y="510.6" width="120.0" height="403.8" fill="#000"/>
<rect x="41.6" y="510.6" width="120.0" height="403.8" fill="#fff" opacity="0.041"/>
<ellipse cx="60.6" cy="579.0" rx="3.3" ry="23.0" fill="url(#g8)" transform="rotate(-3.0 60.6 579.0)"/>
<ellipse cx="55.6" cy="584.0" rx="3.0" ry="20.0" fill="url(#g3)"/>
<ellipse cx="60.5" cy="579.0" rx="9.0" ry="28.0" fill="url(#g2)"/>
<ellipse cx="59.8" cy="713.0" rx="3.0" ry="23.0" fill="url(#g14)" transform="rotate(-1.0 59.8 713.0)"/>
<ellipse cx="55.3" cy="716.0" rx="3.0" ry="22.0" fill="url(#g4)"/>
<ellipse cx="59.7" cy="712.0" rx="9.0" ry="28.0" fill="url(#g3)"/>
<ellipse cx="58.4" cy="815.5" rx="3.0" ry="24.0" fill="url(#g17)"/>
<ellipse cx="52.5" cy="818.0" rx="4.5" ry="24.0" fill="url(#g6)"/>
<ellipse cx="58.7" cy="816.0" rx="11.0" ry="28.0" fill="url(#g4)"/>
<ellipse cx="66.0" cy="813.0" rx="6.0" ry="5.0" fill="url(#g6)"/>
<ellipse cx="61.5" cy="877.5" rx="6.0" ry="15.0" fill="url(#g6)"/>
<ellipse cx="63.0" cy="878.0" rx="10.0" ry="20.0" fill="url(#g3)"/>
<ellipse cx="61.0" cy="850.0" rx="3.0" ry="12.0" fill="url(#g4)"/>
<ellipse cx="57.0" cy="775.0" rx="5.0" ry="16.0" fill="url(#g3)"/>
<ellipse cx="63.0" cy="790.0" rx="3.0" ry="10.0" fill="url(#g3)"/>
<ellipse cx="88.6" cy="579.0" rx="17.0" ry="2.6" fill="url(#g43)"/>
<ellipse cx="88.6" cy="579.0" rx="22.0" ry="4.0" fill="url(#g6)"/>
<ellipse cx="103.0" cy="579.6" rx="32.0" ry="3.0" fill="url(#g10)"/>
<ellipse cx="110.0" cy="571.5" rx="14.0" ry="3.5" fill="url(#g4)"/>
<ellipse cx="108.0" cy="575.0" rx="12.0" ry="2.5" fill="url(#g3)"/>
<ellipse cx="90.0" cy="572.0" rx="5.0" ry="4.0" fill="url(#g4)"/>
<ellipse cx="76.7" cy="629.3" rx="10.5" ry="4.0" fill="url(#g23)"/>
<ellipse cx="76.7" cy="629.3" rx="14.0" ry="6.0" fill="url(#g3)"/>
<ellipse cx="76.7" cy="662.3" rx="10.5" ry="4.0" fill="url(#g23)"/>
<ellipse cx="76.7" cy="662.3" rx="14.0" ry="6.0" fill="url(#g3)"/>
<ellipse cx="85.0" cy="712.7" rx="14.5" ry="2.5" fill="url(#g45)"/>
<ellipse cx="85.0" cy="712.7" rx="18.0" ry="4.0" fill="url(#g5)"/>
<ellipse cx="119.0" cy="718.7" rx="20.0" ry="3.0" fill="url(#g6)"/>
<ellipse cx="119.0" cy="715.0" rx="18.0" ry="2.5" fill="url(#g3)"/>
<ellipse cx="88.0" cy="706.0" rx="5.0" ry="4.0" fill="url(#g4)"/>
<ellipse cx="102.0" cy="772.0" rx="10.0" ry="2.0" fill="url(#g2)"/>
<ellipse cx="72.2" cy="746.2" rx="9.5" ry="4.0" fill="url(#g23)"/>
<ellipse cx="72.2" cy="746.2" rx="13.0" ry="6.0" fill="url(#g3)"/>
<ellipse cx="72.2" cy="779.5" rx="9.5" ry="4.0" fill="url(#g23)"/>
<ellipse cx="72.2" cy="779.5" rx="13.0" ry="6.0" fill="url(#g3)"/>
<ellipse cx="95.0" cy="812.6" rx="24.0" ry="2.4" fill="url(#g45)"/>
<ellipse cx="95.0" cy="812.6" rx="36.0" ry="5.0" fill="url(#g5)"/>
<ellipse cx="94.0" cy="826.0" rx="10.0" ry="3.0" fill="url(#g2)"/>
<ellipse cx="106.6" cy="879.7" rx="23.0" ry="2.5" fill="url(#g45)"/>
<ellipse cx="106.0" cy="879.8" rx="36.0" ry="5.5" fill="url(#g5)"/>
</g></g>
<rect x="43.6" y="512.6" width="116.0" height="399.8" fill="none" stroke="#15153a" stroke-width="0.7"/>
<path d="M43.6 579.2h2.5M159.6 579.2h-2.5M43.6 645.9h2.5M159.6 645.9h-2.5M43.6 712.5h2.5M159.6 712.5h-2.5M43.6 779.1h2.5M159.6 779.1h-2.5M43.6 845.8h2.5M159.6 845.8h-2.5M82.2 512.6v2.5M82.2 912.4v-2.5M120.6 512.6v2.5M120.6 912.4v-2.5" stroke="#101040" stroke-width="0.6" fill="none" opacity="0.7"/>
<g clip-path="url(#cpe)"><g filter="url(#jet)">
<rect x="213.7" y="510.6" width="119.3" height="403.8" fill="#000"/>
<rect x="213.7" y="510.6" width="119.3" height="403.8" fill="#fff" opacity="0.041"/>
<ellipse cx="225.5" cy="579.0" rx="7.2" ry="10.5" fill="url(#g45)" transform="rotate(12.0 225.5 579.0)"/>
<ellipse cx="225.5" cy="579.0" rx="10.0" ry="14.0" fill="url(#g2)" transform="rotate(12.0 225.5 579.0)"/>
<ellipse cx="272.5" cy="579.0" rx="26.0" ry="4.2" fill="url(#g21)" transform="rotate(2.0 272.5 579.0)"/>
<ellipse cx="272.5" cy="579.0" rx="34.0" ry="6.5" fill="url(#g2)" transform="rotate(2.0 272.5 579.0)"/>
<ellipse cx="243.3" cy="629.3" rx="14.5" ry="5.2" fill="url(#g28)"/>
<ellipse cx="243.3" cy="629.3" rx="19.0" ry="7.5" fill="url(#g2)"/>
<ellipse cx="243.3" cy="662.3" rx="14.5" ry="5.2" fill="url(#g28)"/>
<ellipse cx="243.3" cy="662.3" rx="19.0" ry="7.5" fill="url(#g2)"/>
<ellipse cx="224.2" cy="711.5" rx="6.2" ry="9.5" fill="url(#g21)" transform="rotate(-10.0 224.2 711.5)"/>
<ellipse cx="229.0" cy="715.0" rx="14.0" ry="11.0" fill="url(#g4)"/>
<ellipse cx="271.2" cy="712.7" rx="21.0" ry="5.4" fill="url(#g12)"/>
<ellipse cx="238.4" cy="746.3" rx="11.5" ry="5.0" fill="url(#g30)"/>
<ellipse cx="238.4" cy="746.3" rx="16.0" ry="7.5" fill="url(#g2)"/>
<ellipse cx="238.4" cy="779.8" rx="11.5" ry="5.0" fill="url(#g35)"/>
<ellipse cx="238.4" cy="779.8" rx="16.0" ry="7.5" fill="url(#g2)"/>
<ellipse cx="225.8" cy="813.5" rx="7.5" ry="9.8" fill="url(#g28)" transform="rotate(16.0 225.8 813.5)"/>
<ellipse cx="225.8" cy="813.5" rx="10.0" ry="13.0" fill="url(#g2)" transform="rotate(16.0 225.8 813.5)"/>
<ellipse cx="272.5" cy="812.5" rx="28.0" ry="2.5" fill="url(#g44)"/>
<ellipse cx="272.5" cy="812.5" rx="36.0" ry="5.0" fill="url(#g3)"/>
<ellipse cx="272.5" cy="879.3" rx="28.0" ry="2.8" fill="url(#g44)"/>
<ellipse cx="272.5" cy="879.3" rx="36.0" ry="5.0" fill="url(#g3)"/>
<ellipse cx="216.0" cy="676.5" rx="3.0" ry="6.0" fill="url(#g15)"/>
<ellipse cx="329.0" cy="513.0" rx="6.0" ry="2.5" fill="url(#g15)"/>
<ellipse cx="217.5" cy="700.0" rx="4.0" ry="190.0" fill="url(#g2)"/>
<ellipse cx="273.0" cy="910.0" rx="70.0" ry="5.0" fill="url(#g2)"/>
</g></g>
<rect x="215.7" y="512.6" width="115.3" height="399.8" fill="none" stroke="#15153a" stroke-width="0.7"/>
<path d="M215.7 579.2h2.5M331.0 579.2h-2.5M215.7 645.9h2.5M331.0 645.9h-2.5M215.7 712.5h2.5M331.0 712.5h-2.5M215.7 779.1h2.5M331.0 779.1h-2.5M215.7 845.8h2.5M331.0 845.8h-2.5M249.7 512.6v2.5M249.7 912.4v-2.5M289.9 512.6v2.5M289.9 912.4v-2.5" stroke="#101040" stroke-width="0.6" fill="none" opacity="0.7"/>
<g clip-path="url(#cpf)"><g filter="url(#jet)">
<rect x="383.4" y="510.6" width="119.2" height="403.8" fill="#000"/>
<rect x="383.4" y="510.6" width="119.2" height="403.8" fill="#fff" opacity="0.033"/>
<ellipse cx="394.8" cy="579.0" rx="7.2" ry="11.0" fill="url(#g50)" transform="rotate(12.0 394.8 579.0)"/>
<ellipse cx="394.8" cy="579.0" rx="10.0" ry="14.5" fill="url(#g2)" transform="rotate(12.0 394.8 579.0)"/>
<ellipse cx="441.2" cy="578.7" rx="25.0" ry="3.8" fill="url(#g28)" transform="rotate(2.0 441.2 578.7)"/>
<ellipse cx="441.2" cy="578.7" rx="33.0" ry="6.0" fill="url(#g2)" transform="rotate(2.0 441.2 578.7)"/>
<ellipse cx="413.3" cy="629.3" rx="14.0" ry="5.0" fill="url(#g41)"/>
<ellipse cx="413.3" cy="629.3" rx="18.0" ry="7.5" fill="url(#g2)"/>
<ellipse cx="412.8" cy="662.3" rx="14.0" ry="5.0" fill="url(#g41)"/>
<ellipse cx="412.8" cy="662.3" rx="18.0" ry="7.5" fill="url(#g2)"/>
<ellipse cx="394.2" cy="711.8" rx="6.2" ry="9.8" fill="url(#g30)" transform="rotate(-10.0 394.2 711.8)"/>
<ellipse cx="399.0" cy="716.0" rx="14.0" ry="11.0" fill="url(#g3)"/>
<ellipse cx="441.2" cy="712.7" rx="20.0" ry="5.2" fill="url(#g16)"/>
<ellipse cx="408.2" cy="746.3" rx="12.0" ry="5.0" fill="url(#g44)"/>
<ellipse cx="408.2" cy="746.3" rx="16.0" ry="7.5" fill="url(#g2)"/>
<ellipse cx="408.2" cy="779.5" rx="12.0" ry="5.0" fill="url(#g46)"/>
<ellipse cx="408.2" cy="779.5" rx="16.0" ry="7.5" fill="url(#g2)"/>
<ellipse cx="395.8" cy="813.3" rx="7.5" ry="9.8" fill="url(#g36)" transform="rotate(16.0 395.8 813.3)"/>
<ellipse cx="395.8" cy="813.3" rx="10.0" ry="13.0" fill="url(#g2)" transform="rotate(16.0 395.8 813.3)"/>
<ellipse cx="443.7" cy="812.5" rx="27.0" ry="2.5" fill="url(#g45)"/>
<ellipse cx="443.7" cy="812.5" rx="35.0" ry="5.0" fill="url(#g3)"/>
<ellipse cx="442.5" cy="879.3" rx="28.0" ry="3.0" fill="url(#g46)"/>
<ellipse cx="442.5" cy="879.3" rx="36.0" ry="5.5" fill="url(#g3)"/>
</g></g>
<rect x="385.4" y="512.6" width="115.2" height="399.8" fill="none" stroke="#15153a" stroke-width="0.7"/>
<path d="M385.4 579.2h2.5M500.6 579.2h-2.5M385.4 645.9h2.5M500.6 645.9h-2.5M385.4 712.5h2.5M500.6 712.5h-2.5M385.4 779.1h2.5M500.6 779.1h-2.5M385.4 845.8h2.5M500.6 845.8h-2.5M420.0 512.6v2.5M420.0 912.4v-2.5M460.4 512.6v2.5M460.4 912.4v-2.5" stroke="#101040" stroke-width="0.6" fill="none" opacity="0.7"/>
<rect x="47.0" y="555.2" width="25.0" height="50.4" rx="0.0" fill="none" stroke="#22b14c" stroke-width="1.45" stroke-dasharray="3.2 1.8"/>
<rect x="45.4" y="687.1" width="26.8" height="50.5" rx="0.0" fill="none" stroke="#22b14c" stroke-width="1.45" stroke-dasharray="3.2 1.8"/>
<rect x="45.4" y="792.1" width="26.8" height="50.3" rx="0.0" fill="none" stroke="#22b14c" stroke-width="1.45" stroke-dasharray="3.2 1.8"/>
<rect x="100.2" y="705.3" width="40.1" height="23.7" rx="0.0" fill="none" stroke="#ed1c24" stroke-width="1.45" stroke-dasharray="3.2 1.8"/>
<rect x="89.8" y="764.9" width="26.5" height="18.6" rx="1.5" fill="none" stroke="#ed1c24" stroke-width="1.45" stroke-dasharray="3.2 1.8"/>
<rect x="52.9" y="860.6" width="25.1" height="36.8" rx="0.0" fill="none" stroke="#ed1c24" stroke-width="1.45" stroke-dasharray="3.2 1.8"/>
<rect x="61.0" y="33.4" width="100.0" height="395.8" fill="#fff" stroke="#3a3a3a" stroke-width="0.8"/>
<path d="M61.0 99.4h3M161.0 99.4h-3M61.0 165.3h3M161.0 165.3h-3M61.0 231.3h3M161.0 231.3h-3M61.0 297.3h3M161.0 297.3h-3M61.0 363.2h3M161.0 363.2h-3M94.3 33.4v3M94.3 429.2v-3M127.7 33.4v3M127.7 429.2v-3" stroke="#3a3a3a" stroke-width="0.7" fill="none"/>
<path d="M94.53 33.37C94.53 38.42 94.53 57.14 94.53 63.69C94.53 70.24 94.61 70.62 94.53 72.68C94.46 74.74 94.38 75.00 94.08 76.05C93.78 77.09 93.45 77.99 92.74 78.97C92.02 79.94 90.83 80.88 89.82 81.89C88.81 82.90 87.05 83.87 86.67 85.03C86.30 86.19 86.48 87.73 87.57 88.85C88.66 89.97 90.00 90.80 93.19 91.77C96.37 92.74 100.67 93.94 106.66 94.69C112.65 95.44 121.86 95.85 129.12 96.26C136.39 96.67 150.24 96.82 150.24 97.16C150.24 97.50 136.39 97.87 129.12 98.28C121.86 98.70 112.58 99.11 106.66 99.63C100.75 100.16 94.76 100.98 93.63 101.43C92.51 101.88 97.19 101.95 99.92 102.33C102.66 102.70 109.47 103.11 110.03 103.67C110.59 104.24 106.29 104.95 103.29 105.70C100.30 106.45 94.79 107.23 92.06 108.17C89.33 109.10 87.53 110.11 86.90 111.31C86.26 112.51 87.27 114.01 88.24 115.35C89.22 116.70 91.54 117.69 92.74 119.40C93.93 121.11 95.06 123.27 95.43 125.62C95.81 127.96 95.73 131.34 94.98 133.48C94.23 135.61 91.91 137.03 90.94 138.42C89.97 139.80 88.02 140.81 89.14 141.79C90.27 142.76 91.95 143.21 97.68 144.26C103.41 145.31 123.13 146.95 123.51 148.08C123.88 149.20 106.47 149.95 99.92 151.00C93.37 152.05 86.07 153.24 84.20 154.37C82.33 155.49 86.90 156.54 88.69 157.74C90.49 158.93 93.93 159.79 94.98 161.55C96.03 163.31 95.73 166.53 94.98 168.29C94.23 170.05 91.46 171.06 90.49 172.11C89.52 173.16 87.57 173.61 89.14 174.58C90.71 175.56 94.20 176.94 99.92 177.95C105.65 178.96 123.51 179.71 123.51 180.65C123.51 181.58 106.47 182.56 99.92 183.57C93.37 184.58 86.07 185.63 84.20 186.71C82.33 187.80 86.97 188.85 88.69 190.08C90.41 191.32 93.41 191.95 94.53 194.12C95.66 196.30 95.58 200.49 95.43 203.11C95.28 205.73 94.76 207.88 93.63 209.85C92.51 211.82 89.89 213.42 88.69 214.94C87.49 216.46 86.07 217.75 86.45 218.98C86.82 220.22 87.57 221.31 90.94 222.35C94.31 223.40 100.41 224.34 106.66 225.27C112.91 226.21 128.45 227.15 128.45 227.97C128.45 228.79 113.85 229.58 106.66 230.22C99.47 230.85 85.32 231.26 85.32 231.79C85.32 232.31 100.41 232.84 106.66 233.36C112.91 233.88 122.83 234.33 122.83 234.93C122.83 235.53 111.79 236.06 106.66 236.95C101.53 237.85 95.36 239.13 92.06 240.32C88.77 241.52 87.27 242.76 86.90 244.14C86.52 245.53 88.21 247.14 89.82 248.63C91.43 250.13 93.93 251.82 96.55 253.13C99.17 254.44 103.55 255.60 105.54 256.50C107.52 257.39 109.40 257.73 108.46 258.52C107.52 259.30 105.09 260.31 99.92 261.21C94.76 262.11 82.89 263.08 77.46 263.91C72.03 264.73 67.35 265.33 67.35 266.15C67.35 266.98 73.34 267.91 77.46 268.85C81.58 269.79 88.69 270.72 92.06 271.77C95.43 272.82 97.12 273.64 97.68 275.14C98.24 276.64 95.62 278.88 95.43 280.75C95.24 282.63 95.06 284.80 96.55 286.37C98.05 287.94 102.43 289.21 104.42 290.19C106.40 291.17 109.21 291.53 108.46 292.25C107.71 292.96 105.09 293.67 99.92 294.49C94.76 295.32 82.89 296.40 77.46 297.19C72.03 297.97 67.35 298.46 67.35 299.21C67.35 299.96 73.53 300.89 77.46 301.68C81.39 302.47 87.57 303.07 90.94 303.93C94.31 304.79 97.12 305.50 97.68 306.85C98.24 308.19 95.73 310.25 94.31 312.01C92.89 313.77 89.52 315.76 89.14 317.40C88.77 319.05 90.27 320.55 92.06 321.90C93.86 323.24 94.87 324.59 99.92 325.49C104.98 326.39 112.73 326.61 122.39 327.29C132.04 327.96 157.88 328.93 157.88 329.53C157.88 330.13 134.22 330.36 122.39 330.88C110.56 331.40 91.01 332.12 86.90 332.68C82.78 333.24 95.02 333.73 97.68 334.25C100.34 334.77 102.84 335.22 102.84 335.82C102.84 336.42 99.66 336.95 97.68 337.84C95.69 338.74 92.36 340.13 90.94 341.21C89.52 342.30 88.95 343.08 89.14 344.36C89.33 345.63 91.16 347.24 92.06 348.85C92.96 350.46 94.05 351.84 94.53 354.02C95.02 356.19 94.91 356.17 94.98 361.88C95.06 367.59 95.28 383.52 94.98 388.29C94.68 393.07 94.16 389.90 93.19 390.54C92.21 391.18 88.02 391.62 89.14 392.11C90.27 392.60 91.69 392.90 99.92 393.46C108.16 394.02 138.56 394.81 138.56 395.48C138.56 396.15 111.30 396.90 99.92 397.50C88.54 398.10 72.15 398.59 70.27 399.07C68.40 399.56 84.57 399.86 88.69 400.42C92.81 400.98 93.93 397.65 94.98 402.44C96.03 407.24 94.98 424.72 94.98 429.17" fill="none" stroke="#0808e0" stroke-width="1.8" stroke-linejoin="round" stroke-linecap="butt"/>
<text x="1.8" y="15.7" class="lab" text-anchor="start">(a)</text>
<text x="174.8" y="15.7" class="lab" text-anchor="start">(b)</text>
<text x="346.2" y="15.7" class="lab" text-anchor="start">(c)</text>
<text x="0.2" y="494.0" class="lab" text-anchor="start">(d)</text>
<text x="173.0" y="494.0" class="lab" text-anchor="start">(e)</text>
<text x="345.0" y="494.0" class="lab" text-anchor="start">(f)</text>
<text x="57.1" y="37.2" class="tk" text-anchor="end">0</text>
<text x="57.1" y="103.2" class="tk" text-anchor="end">0.1</text>
<text x="57.1" y="169.1" class="tk" text-anchor="end">0.2</text>
<text x="57.1" y="235.1" class="tk" text-anchor="end">0.3</text>
<text x="57.1" y="301.1" class="tk" text-anchor="end">0.4</text>
<text x="57.1" y="367.0" class="tk" text-anchor="end">0.5</text>
<text x="57.1" y="433.0" class="tk" text-anchor="end">0.6</text>
<text x="215.1" y="103.2" class="tk" text-anchor="end">0.1</text>
<text x="215.1" y="169.1" class="tk" text-anchor="end">0.2</text>
<text x="215.1" y="235.1" class="tk" text-anchor="end">0.3</text>
<text x="215.1" y="301.1" class="tk" text-anchor="end">0.4</text>
<text x="215.1" y="367.0" class="tk" text-anchor="end">0.5</text>
<text x="215.1" y="433.0" class="tk" text-anchor="end">0.6</text>
<text x="385.5" y="103.2" class="tk" text-anchor="end">0.1</text>
<text x="385.5" y="169.1" class="tk" text-anchor="end">0.2</text>
<text x="385.5" y="235.1" class="tk" text-anchor="end">0.3</text>
<text x="385.5" y="301.1" class="tk" text-anchor="end">0.4</text>
<text x="385.5" y="367.0" class="tk" text-anchor="end">0.5</text>
<text x="385.5" y="433.0" class="tk" text-anchor="end">0.6</text>
<text x="39.7" y="583.0" class="tk" text-anchor="end">0.1</text>
<text x="39.7" y="649.7" class="tk" text-anchor="end">0.2</text>
<text x="39.7" y="716.3" class="tk" text-anchor="end">0.3</text>
<text x="39.7" y="782.9" class="tk" text-anchor="end">0.4</text>
<text x="39.7" y="849.6" class="tk" text-anchor="end">0.5</text>
<text x="39.7" y="916.2" class="tk" text-anchor="end">0.6</text>
<text x="211.8" y="583.0" class="tk" text-anchor="end">0.1</text>
<text x="211.8" y="649.7" class="tk" text-anchor="end">0.2</text>
<text x="211.8" y="716.3" class="tk" text-anchor="end">0.3</text>
<text x="211.8" y="782.9" class="tk" text-anchor="end">0.4</text>
<text x="211.8" y="849.6" class="tk" text-anchor="end">0.5</text>
<text x="211.8" y="916.2" class="tk" text-anchor="end">0.6</text>
<text x="381.5" y="583.0" class="tk" text-anchor="end">0.1</text>
<text x="381.5" y="649.7" class="tk" text-anchor="end">0.2</text>
<text x="381.5" y="716.3" class="tk" text-anchor="end">0.3</text>
<text x="381.5" y="782.9" class="tk" text-anchor="end">0.4</text>
<text x="381.5" y="849.6" class="tk" text-anchor="end">0.5</text>
<text x="381.5" y="916.2" class="tk" text-anchor="end">0.6</text>
<text x="59.5" y="443.5" class="tk" text-anchor="middle">-2</text>
<text x="94.3" y="443.5" class="tk" text-anchor="middle">0</text>
<text x="127.7" y="443.5" class="tk" text-anchor="middle">2</text>
<text x="161.0" y="443.5" class="tk" text-anchor="middle">4</text>
<text x="112.4" y="458.6" class="ax" text-anchor="middle" letter-spacing="0.75">Amplitude</text>
<text x="38.0" y="230.4" class="ax" text-anchor="middle" letter-spacing="0.5" transform="rotate(-90 38.0 230.4)">Time/s</text>
<text x="257.2" y="443.8" class="tk" text-anchor="middle">50</text>
<text x="295.2" y="443.8" class="tk" text-anchor="middle">100</text>
<text x="333.2" y="443.8" class="tk" text-anchor="middle">150</text>
<text x="276.8" y="458.0" class="ax" text-anchor="middle" letter-spacing="0.00">Frequency/Hz</text>
<text x="422.7" y="443.8" class="tk" text-anchor="middle">50</text>
<text x="463.1" y="443.8" class="tk" text-anchor="middle">100</text>
<text x="502.0" y="443.8" class="tk" text-anchor="middle">150</text>
<text x="446.7" y="459.6" class="ax" text-anchor="middle" letter-spacing="0.62">Frequency/Hz</text>
<text x="82.2" y="927.8" class="tk" text-anchor="middle">50</text>
<text x="120.6" y="927.8" class="tk" text-anchor="middle">100</text>
<text x="159.2" y="927.8" class="tk" text-anchor="middle">150</text>
<text x="101.6" y="942.0" class="ax" text-anchor="middle" letter-spacing="0.12">Frequency/Hz</text>
<text x="249.7" y="927.8" class="tk" text-anchor="middle">50</text>
<text x="289.9" y="927.8" class="tk" text-anchor="middle">100</text>
<text x="330.3" y="927.8" class="tk" text-anchor="middle">150</text>
<text x="273.4" y="942.1" class="ax" text-anchor="middle" letter-spacing="0.12">Frequency/Hz</text>
<text x="420.0" y="927.8" class="tk" text-anchor="middle">50</text>
<text x="460.4" y="927.8" class="tk" text-anchor="middle">100</text>
<text x="500.1" y="927.8" class="tk" text-anchor="middle">150</text>
<text x="443.3" y="941.9" class="ax" text-anchor="middle" letter-spacing="0.10">Frequency/Hz</text>
</svg>
</body></html>
